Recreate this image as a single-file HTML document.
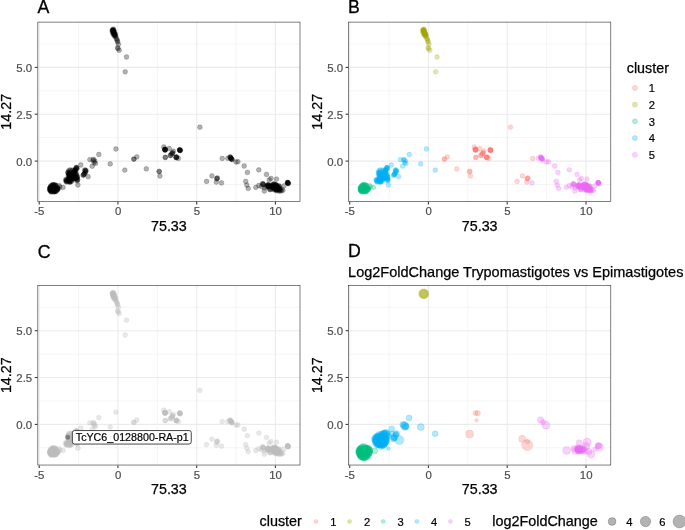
<!DOCTYPE html>
<html><head><meta charset="utf-8"><title>PCA clusters</title>
<style>
html,body{margin:0;padding:0;background:#fff;}
body{width:685px;height:530px;overflow:hidden;font-family:"Liberation Sans",sans-serif;}
svg{display:block;will-change:transform;font-family:"Liberation Sans",sans-serif;}
.ax{font-size:11.4px;fill:#4d4d4d;stroke:#4d4d4d;stroke-width:0.2px;}
.tt{font-size:14.3px;fill:#000;stroke:#000;stroke-width:0.25px;}
.tag{font-size:17.7px;fill:#000;stroke:#000;stroke-width:0.3px;}
.lg{font-size:11.2px;fill:#000;stroke:#000;stroke-width:0.2px;}
</style></head><body>
<svg width="685" height="530" viewBox="0 0 685 530">
<rect width="685" height="530" fill="#fff"/>

<g>
<line x1="78.6" y1="21.8" x2="78.6" y2="201.8" stroke="#ebebeb" stroke-width="0.55"/>
<line x1="157.3" y1="21.8" x2="157.3" y2="201.8" stroke="#ebebeb" stroke-width="0.55"/>
<line x1="236.1" y1="21.8" x2="236.1" y2="201.8" stroke="#ebebeb" stroke-width="0.55"/>
<line x1="37.5" y1="43.9" x2="300.3" y2="43.9" stroke="#ebebeb" stroke-width="0.55"/>
<line x1="37.5" y1="90.8" x2="300.3" y2="90.8" stroke="#ebebeb" stroke-width="0.55"/>
<line x1="37.5" y1="137.6" x2="300.3" y2="137.6" stroke="#ebebeb" stroke-width="0.55"/>
<line x1="37.5" y1="184.5" x2="300.3" y2="184.5" stroke="#ebebeb" stroke-width="0.55"/>
<line x1="39.2" y1="21.8" x2="39.2" y2="201.8" stroke="#ebebeb" stroke-width="1.07"/>
<line x1="39.2" y1="201.8" x2="39.2" y2="204.5" stroke="#333" stroke-width="1.07"/>
<text class="ax" x="39.4" y="214.8" text-anchor="middle">-5</text>
<line x1="117.9" y1="21.8" x2="117.9" y2="201.8" stroke="#ebebeb" stroke-width="1.07"/>
<line x1="117.9" y1="201.8" x2="117.9" y2="204.5" stroke="#333" stroke-width="1.07"/>
<text class="ax" x="118.1" y="214.8" text-anchor="middle">0</text>
<line x1="196.7" y1="21.8" x2="196.7" y2="201.8" stroke="#ebebeb" stroke-width="1.07"/>
<line x1="196.7" y1="201.8" x2="196.7" y2="204.5" stroke="#333" stroke-width="1.07"/>
<text class="ax" x="196.9" y="214.8" text-anchor="middle">5</text>
<line x1="275.4" y1="21.8" x2="275.4" y2="201.8" stroke="#ebebeb" stroke-width="1.07"/>
<line x1="275.4" y1="201.8" x2="275.4" y2="204.5" stroke="#333" stroke-width="1.07"/>
<text class="ax" x="275.6" y="214.8" text-anchor="middle">10</text>
<line x1="37.5" y1="67.4" x2="300.3" y2="67.4" stroke="#ebebeb" stroke-width="1.07"/>
<line x1="34.8" y1="67.4" x2="37.5" y2="67.4" stroke="#333" stroke-width="1.07"/>
<text class="ax" x="32.2" y="71.9" text-anchor="end">5.0</text>
<line x1="37.5" y1="114.2" x2="300.3" y2="114.2" stroke="#ebebeb" stroke-width="1.07"/>
<line x1="34.8" y1="114.2" x2="37.5" y2="114.2" stroke="#333" stroke-width="1.07"/>
<text class="ax" x="32.2" y="118.7" text-anchor="end">2.5</text>
<line x1="37.5" y1="161.1" x2="300.3" y2="161.1" stroke="#ebebeb" stroke-width="1.07"/>
<line x1="34.8" y1="161.1" x2="37.5" y2="161.1" stroke="#333" stroke-width="1.07"/>
<text class="ax" x="32.2" y="165.6" text-anchor="end">0.0</text>
</g>
<g fill="#000" fill-opacity="0.3" stroke="#000" stroke-opacity="0.3" stroke-width="0.6">
<circle cx="199.9" cy="127.2" r="2.4"/>
<circle cx="133.9" cy="159.1" r="2.4"/>
<circle cx="136.8" cy="156.9" r="2.4"/>
<circle cx="146.3" cy="168.9" r="2.4"/>
<circle cx="159.1" cy="171.3" r="2.4"/>
<circle cx="159.3" cy="171.6" r="2.4"/>
<circle cx="163.8" cy="147.0" r="2.4"/>
<circle cx="165.0" cy="149.6" r="2.4"/>
<circle cx="165.4" cy="149.9" r="2.4"/>
<circle cx="164.7" cy="149.2" r="2.4"/>
<circle cx="169.2" cy="148.5" r="2.4"/>
<circle cx="173.3" cy="151.1" r="2.4"/>
<circle cx="179.9" cy="150.1" r="2.4"/>
<circle cx="180.3" cy="150.4" r="2.4"/>
<circle cx="179.5" cy="149.8" r="2.4"/>
<circle cx="165.3" cy="157.4" r="2.4"/>
<circle cx="170.4" cy="155.5" r="2.4"/>
<circle cx="176.2" cy="157.4" r="2.4"/>
<circle cx="176.6" cy="157.0" r="2.4"/>
<circle cx="178.4" cy="158.4" r="2.4"/>
<circle cx="172.6" cy="152.8" r="2.4"/>
<circle cx="171.5" cy="154.2" r="2.4"/>
<circle cx="222.2" cy="158.4" r="2.4"/>
<circle cx="211.9" cy="175.9" r="2.4"/>
<circle cx="217.1" cy="178.4" r="2.4"/>
<circle cx="217.4" cy="178.0" r="2.4"/>
<circle cx="216.7" cy="178.8" r="2.4"/>
<circle cx="206.6" cy="181.4" r="2.4"/>
<circle cx="216.3" cy="182.1" r="2.4"/>
<circle cx="165.0" cy="149.6" r="2.4"/>
<circle cx="165.2" cy="149.4" r="2.4"/>
<circle cx="164.8" cy="149.9" r="2.4"/>
<circle cx="165.1" cy="150.0" r="2.4"/>
<circle cx="179.9" cy="150.1" r="2.4"/>
<circle cx="180.1" cy="150.3" r="2.4"/>
<circle cx="179.7" cy="149.9" r="2.4"/>
<circle cx="180.0" cy="150.5" r="2.4"/>
<circle cx="176.2" cy="157.4" r="2.4"/>
<circle cx="176.4" cy="157.6" r="2.4"/>
<circle cx="176.0" cy="157.2" r="2.4"/>
<circle cx="165.3" cy="157.4" r="2.4"/>
<circle cx="170.4" cy="155.5" r="2.4"/>
<circle cx="172.6" cy="152.8" r="2.4"/>
<circle cx="172.1" cy="153.6" r="2.4"/>
<circle cx="133.9" cy="159.1" r="2.4"/>
<circle cx="159.9" cy="176.0" r="2.4"/>
<circle cx="112.7" cy="29.6" r="2.4"/>
<circle cx="112.9" cy="30.3" r="2.4"/>
<circle cx="113.1" cy="31.0" r="2.4"/>
<circle cx="113.4" cy="31.6" r="2.4"/>
<circle cx="113.6" cy="32.2" r="2.4"/>
<circle cx="113.8" cy="32.8" r="2.4"/>
<circle cx="114.1" cy="33.4" r="2.4"/>
<circle cx="114.3" cy="34.0" r="2.4"/>
<circle cx="114.6" cy="34.6" r="2.4"/>
<circle cx="114.9" cy="35.2" r="2.4"/>
<circle cx="112.8" cy="29.9" r="2.4"/>
<circle cx="113.3" cy="31.2" r="2.4"/>
<circle cx="113.9" cy="33.0" r="2.4"/>
<circle cx="114.5" cy="34.2" r="2.4"/>
<circle cx="115.1" cy="36.0" r="2.4"/>
<circle cx="115.5" cy="36.8" r="2.4"/>
<circle cx="113.0" cy="30.6" r="2.4"/>
<circle cx="113.5" cy="32.0" r="2.4"/>
<circle cx="116.4" cy="38.6" r="2.4"/>
<circle cx="116.9" cy="39.6" r="2.4"/>
<circle cx="117.3" cy="40.8" r="2.4"/>
<circle cx="117.7" cy="42.0" r="2.4"/>
<circle cx="118.4" cy="44.3" r="2.4"/>
<circle cx="117.5" cy="47.8" r="2.4"/>
<circle cx="118.1" cy="48.6" r="2.4"/>
<circle cx="119.2" cy="50.3" r="2.4"/>
<circle cx="126.5" cy="57.0" r="2.4"/>
<circle cx="125.2" cy="71.8" r="2.4"/>
<circle cx="112.1" cy="30.6" r="2.4"/>
<circle cx="113.9" cy="30.4" r="2.4"/>
<circle cx="112.5" cy="32.4" r="2.4"/>
<circle cx="114.5" cy="32.2" r="2.4"/>
<circle cx="113.1" cy="34.0" r="2.4"/>
<circle cx="115.1" cy="33.8" r="2.4"/>
<circle cx="113.9" cy="35.6" r="2.4"/>
<circle cx="115.7" cy="35.4" r="2.4"/>
<circle cx="113.5" cy="29.2" r="2.4"/>
<circle cx="51.0" cy="186.8" r="2.4"/>
<circle cx="53.2" cy="184.9" r="2.4"/>
<circle cx="53.5" cy="187.4" r="2.4"/>
<circle cx="50.3" cy="190.4" r="2.4"/>
<circle cx="49.9" cy="190.0" r="2.4"/>
<circle cx="54.4" cy="191.1" r="2.4"/>
<circle cx="49.7" cy="188.1" r="2.4"/>
<circle cx="56.4" cy="191.1" r="2.4"/>
<circle cx="53.9" cy="187.4" r="2.4"/>
<circle cx="55.7" cy="185.5" r="2.4"/>
<circle cx="53.4" cy="191.5" r="2.4"/>
<circle cx="51.5" cy="190.4" r="2.4"/>
<circle cx="54.3" cy="187.0" r="2.4"/>
<circle cx="52.4" cy="185.2" r="2.4"/>
<circle cx="54.8" cy="187.2" r="2.4"/>
<circle cx="52.6" cy="189.9" r="2.4"/>
<circle cx="52.6" cy="187.3" r="2.4"/>
<circle cx="56.7" cy="188.7" r="2.4"/>
<circle cx="52.0" cy="190.1" r="2.4"/>
<circle cx="55.3" cy="191.0" r="2.4"/>
<circle cx="54.7" cy="186.0" r="2.4"/>
<circle cx="54.1" cy="190.7" r="2.4"/>
<circle cx="51.0" cy="189.9" r="2.4"/>
<circle cx="50.8" cy="191.6" r="2.4"/>
<circle cx="56.0" cy="187.9" r="2.4"/>
<circle cx="55.9" cy="185.6" r="2.4"/>
<circle cx="55.6" cy="188.3" r="2.4"/>
<circle cx="54.1" cy="187.9" r="2.4"/>
<circle cx="54.1" cy="189.8" r="2.4"/>
<circle cx="51.1" cy="191.8" r="2.4"/>
<circle cx="55.4" cy="185.6" r="2.4"/>
<circle cx="53.5" cy="190.2" r="2.4"/>
<circle cx="49.9" cy="190.2" r="2.4"/>
<circle cx="49.9" cy="188.3" r="2.4"/>
<circle cx="54.3" cy="191.6" r="2.4"/>
<circle cx="50.3" cy="189.9" r="2.4"/>
<circle cx="55.6" cy="191.0" r="2.4"/>
<circle cx="57.6" cy="189.7" r="2.4"/>
<circle cx="51.7" cy="188.8" r="2.4"/>
<circle cx="54.1" cy="191.8" r="2.4"/>
<circle cx="50.2" cy="188.0" r="2.4"/>
<circle cx="51.6" cy="189.5" r="2.4"/>
<circle cx="53.5" cy="186.5" r="2.4"/>
<circle cx="52.9" cy="189.5" r="2.4"/>
<circle cx="57.9" cy="187.9" r="2.4"/>
<circle cx="54.3" cy="189.3" r="2.4"/>
<circle cx="53.4" cy="184.6" r="2.4"/>
<circle cx="57.9" cy="188.8" r="2.4"/>
<circle cx="57.7" cy="189.0" r="2.4"/>
<circle cx="52.5" cy="188.2" r="2.4"/>
<circle cx="51.2" cy="191.1" r="2.4"/>
<circle cx="50.2" cy="187.4" r="2.4"/>
<circle cx="50.7" cy="186.0" r="2.4"/>
<circle cx="50.1" cy="189.2" r="2.4"/>
<circle cx="53.2" cy="185.6" r="2.4"/>
<circle cx="51.2" cy="188.5" r="2.4"/>
<circle cx="51.2" cy="186.4" r="2.4"/>
<circle cx="53.4" cy="188.5" r="2.4"/>
<circle cx="51.6" cy="187.5" r="2.4"/>
<circle cx="54.9" cy="184.7" r="2.4"/>
<circle cx="52.6" cy="185.9" r="2.4"/>
<circle cx="52.2" cy="185.0" r="2.4"/>
<circle cx="55.8" cy="191.7" r="2.4"/>
<circle cx="57.3" cy="188.3" r="2.4"/>
<circle cx="51.3" cy="188.6" r="2.4"/>
<circle cx="52.2" cy="191.8" r="2.4"/>
<circle cx="55.0" cy="190.3" r="2.4"/>
<circle cx="51.3" cy="187.3" r="2.4"/>
<circle cx="57.6" cy="189.2" r="2.4"/>
<circle cx="57.1" cy="188.8" r="2.4"/>
<circle cx="63.0" cy="187.4" r="2.4"/>
<circle cx="59.1" cy="185.6" r="2.4"/>
<circle cx="59.8" cy="187.0" r="2.4"/>
<circle cx="115.9" cy="149.0" r="2.4"/>
<circle cx="98.8" cy="154.5" r="2.4"/>
<circle cx="89.9" cy="159.6" r="2.4"/>
<circle cx="93.1" cy="160.2" r="2.4"/>
<circle cx="94.8" cy="161.0" r="2.4"/>
<circle cx="94.1" cy="162.6" r="2.4"/>
<circle cx="95.5" cy="163.4" r="2.4"/>
<circle cx="93.5" cy="159.4" r="2.4"/>
<circle cx="92.2" cy="166.2" r="2.4"/>
<circle cx="110.2" cy="163.9" r="2.4"/>
<circle cx="124.8" cy="170.1" r="2.4"/>
<circle cx="80.8" cy="165.0" r="2.4"/>
<circle cx="76.5" cy="167.7" r="2.4"/>
<circle cx="76.9" cy="168.4" r="2.4"/>
<circle cx="85.2" cy="170.6" r="2.4"/>
<circle cx="85.8" cy="171.4" r="2.4"/>
<circle cx="84.7" cy="170.0" r="2.4"/>
<circle cx="88.1" cy="176.7" r="2.4"/>
<circle cx="83.8" cy="174.5" r="2.4"/>
<circle cx="83.1" cy="175.4" r="2.4"/>
<circle cx="84.4" cy="173.6" r="2.4"/>
<circle cx="77.9" cy="185.0" r="2.4"/>
<circle cx="76.5" cy="167.4" r="2.4"/>
<circle cx="76.1" cy="168.0" r="2.4"/>
<circle cx="76.8" cy="168.6" r="2.4"/>
<circle cx="85.4" cy="170.9" r="2.4"/>
<circle cx="86.0" cy="170.3" r="2.4"/>
<circle cx="83.5" cy="174.8" r="2.4"/>
<circle cx="84.1" cy="174.0" r="2.4"/>
<circle cx="85.5" cy="172.6" r="2.4"/>
<circle cx="75.1" cy="170.2" r="2.4"/>
<circle cx="75.7" cy="169.4" r="2.4"/>
<circle cx="74.5" cy="171.0" r="2.4"/>
<circle cx="69.0" cy="174.5" r="2.4"/>
<circle cx="68.7" cy="170.6" r="2.4"/>
<circle cx="69.8" cy="175.6" r="2.4"/>
<circle cx="75.0" cy="171.4" r="2.4"/>
<circle cx="74.8" cy="170.8" r="2.4"/>
<circle cx="68.1" cy="172.5" r="2.4"/>
<circle cx="67.9" cy="172.4" r="2.4"/>
<circle cx="73.5" cy="175.8" r="2.4"/>
<circle cx="74.1" cy="172.0" r="2.4"/>
<circle cx="73.5" cy="174.9" r="2.4"/>
<circle cx="68.3" cy="176.0" r="2.4"/>
<circle cx="75.6" cy="173.9" r="2.4"/>
<circle cx="73.4" cy="172.4" r="2.4"/>
<circle cx="69.4" cy="176.6" r="2.4"/>
<circle cx="70.8" cy="176.1" r="2.4"/>
<circle cx="75.0" cy="171.0" r="2.4"/>
<circle cx="71.8" cy="176.9" r="2.4"/>
<circle cx="72.2" cy="170.3" r="2.4"/>
<circle cx="69.3" cy="177.0" r="2.4"/>
<circle cx="70.2" cy="174.3" r="2.4"/>
<circle cx="75.7" cy="172.8" r="2.4"/>
<circle cx="72.8" cy="176.3" r="2.4"/>
<circle cx="71.8" cy="176.2" r="2.4"/>
<circle cx="73.2" cy="170.2" r="2.4"/>
<circle cx="68.6" cy="172.8" r="2.4"/>
<circle cx="69.4" cy="174.9" r="2.4"/>
<circle cx="69.0" cy="173.7" r="2.4"/>
<circle cx="69.9" cy="173.6" r="2.4"/>
<circle cx="73.2" cy="175.9" r="2.4"/>
<circle cx="71.9" cy="176.6" r="2.4"/>
<circle cx="71.4" cy="173.6" r="2.4"/>
<circle cx="70.1" cy="169.9" r="2.4"/>
<circle cx="69.9" cy="171.4" r="2.4"/>
<circle cx="68.4" cy="174.4" r="2.4"/>
<circle cx="70.5" cy="179.8" r="2.4"/>
<circle cx="67.7" cy="180.5" r="2.4"/>
<circle cx="69.7" cy="181.3" r="2.4"/>
<circle cx="66.3" cy="181.1" r="2.4"/>
<circle cx="66.8" cy="179.4" r="2.4"/>
<circle cx="70.8" cy="179.5" r="2.4"/>
<circle cx="69.7" cy="181.2" r="2.4"/>
<circle cx="71.7" cy="178.8" r="2.4"/>
<circle cx="69.7" cy="179.8" r="2.4"/>
<circle cx="69.3" cy="180.9" r="2.4"/>
<circle cx="68.6" cy="180.3" r="2.4"/>
<circle cx="69.4" cy="182.2" r="2.4"/>
<circle cx="70.8" cy="181.4" r="2.4"/>
<circle cx="70.0" cy="182.1" r="2.4"/>
<circle cx="70.7" cy="177.5" r="2.4"/>
<circle cx="66.2" cy="180.5" r="2.4"/>
<circle cx="65.6" cy="179.6" r="2.4"/>
<circle cx="66.2" cy="181.8" r="2.4"/>
<circle cx="71.5" cy="181.4" r="2.4"/>
<circle cx="66.9" cy="181.8" r="2.4"/>
<circle cx="69.5" cy="177.9" r="2.4"/>
<circle cx="68.2" cy="180.2" r="2.4"/>
<circle cx="66.5" cy="180.4" r="2.4"/>
<circle cx="68.8" cy="179.2" r="2.4"/>
<circle cx="73.8" cy="178.8" r="2.4"/>
<circle cx="76.3" cy="178.2" r="2.4"/>
<circle cx="76.9" cy="178.3" r="2.4"/>
<circle cx="73.2" cy="178.8" r="2.4"/>
<circle cx="73.8" cy="177.7" r="2.4"/>
<circle cx="76.7" cy="180.7" r="2.4"/>
<circle cx="77.4" cy="176.5" r="2.4"/>
<circle cx="77.0" cy="179.3" r="2.4"/>
<circle cx="77.0" cy="177.6" r="2.4"/>
<circle cx="77.7" cy="179.5" r="2.4"/>
<circle cx="75.4" cy="178.0" r="2.4"/>
<circle cx="77.5" cy="180.4" r="2.4"/>
<circle cx="73.8" cy="177.7" r="2.4"/>
<circle cx="75.6" cy="177.3" r="2.4"/>
<circle cx="74.5" cy="178.3" r="2.4"/>
<circle cx="77.1" cy="176.8" r="2.4"/>
<circle cx="71.4" cy="174.9" r="2.4"/>
<circle cx="74.6" cy="175.4" r="2.4"/>
<circle cx="69.9" cy="178.1" r="2.4"/>
<circle cx="74.9" cy="174.4" r="2.4"/>
<circle cx="73.6" cy="178.2" r="2.4"/>
<circle cx="71.6" cy="177.1" r="2.4"/>
<circle cx="72.3" cy="179.0" r="2.4"/>
<circle cx="74.7" cy="176.0" r="2.4"/>
<circle cx="71.2" cy="176.3" r="2.4"/>
<circle cx="69.8" cy="180.1" r="2.4"/>
<circle cx="69.3" cy="176.2" r="2.4"/>
<circle cx="76.1" cy="175.3" r="2.4"/>
<circle cx="69.8" cy="176.5" r="2.4"/>
<circle cx="70.7" cy="177.5" r="2.4"/>
<circle cx="69.5" cy="178.2" r="2.4"/>
<circle cx="76.6" cy="174.1" r="2.4"/>
<circle cx="70.4" cy="176.9" r="2.4"/>
<circle cx="72.3" cy="176.7" r="2.4"/>
<circle cx="221.5" cy="182.9" r="2.4"/>
<circle cx="227.8" cy="158.3" r="2.4"/>
<circle cx="230.0" cy="156.8" r="2.4"/>
<circle cx="231.5" cy="159.0" r="2.4"/>
<circle cx="230.9" cy="158.2" r="2.4"/>
<circle cx="232.1" cy="159.6" r="2.4"/>
<circle cx="230.5" cy="157.6" r="2.4"/>
<circle cx="236.0" cy="162.0" r="2.4"/>
<circle cx="237.9" cy="161.7" r="2.4"/>
<circle cx="244.2" cy="166.0" r="2.4"/>
<circle cx="247.4" cy="172.4" r="2.4"/>
<circle cx="258.8" cy="169.9" r="2.4"/>
<circle cx="266.5" cy="174.4" r="2.4"/>
<circle cx="245.7" cy="181.4" r="2.4"/>
<circle cx="246.8" cy="185.1" r="2.4"/>
<circle cx="248.2" cy="188.4" r="2.4"/>
<circle cx="255.8" cy="187.3" r="2.4"/>
<circle cx="258.8" cy="185.5" r="2.4"/>
<circle cx="262.8" cy="183.6" r="2.4"/>
<circle cx="271.0" cy="178.4" r="2.4"/>
<circle cx="276.5" cy="179.1" r="2.4"/>
<circle cx="269.2" cy="179.9" r="2.4"/>
<circle cx="287.8" cy="182.9" r="2.4"/>
<circle cx="288.1" cy="183.3" r="2.4"/>
<circle cx="287.5" cy="182.5" r="2.4"/>
<circle cx="288.5" cy="183.6" r="2.4"/>
<circle cx="264.3" cy="191.0" r="2.4"/>
<circle cx="282.9" cy="190.3" r="2.4"/>
<circle cx="284.1" cy="185.8" r="2.4"/>
<circle cx="279.9" cy="191.0" r="2.4"/>
<circle cx="261.5" cy="186.6" r="2.4"/>
<circle cx="264.5" cy="187.8" r="2.4"/>
<circle cx="269.3" cy="186.7" r="2.4"/>
<circle cx="267.9" cy="185.9" r="2.4"/>
<circle cx="271.0" cy="185.2" r="2.4"/>
<circle cx="274.7" cy="187.5" r="2.4"/>
<circle cx="276.9" cy="188.6" r="2.4"/>
<circle cx="276.2" cy="190.0" r="2.4"/>
<circle cx="272.1" cy="185.9" r="2.4"/>
<circle cx="276.5" cy="188.5" r="2.4"/>
<circle cx="278.9" cy="188.7" r="2.4"/>
<circle cx="276.5" cy="189.6" r="2.4"/>
<circle cx="268.5" cy="186.7" r="2.4"/>
<circle cx="273.3" cy="189.3" r="2.4"/>
<circle cx="277.5" cy="189.8" r="2.4"/>
<circle cx="274.4" cy="189.8" r="2.4"/>
<circle cx="275.9" cy="188.7" r="2.4"/>
<circle cx="268.5" cy="185.7" r="2.4"/>
<circle cx="274.2" cy="188.1" r="2.4"/>
<circle cx="275.1" cy="188.6" r="2.4"/>
<circle cx="273.7" cy="184.0" r="2.4"/>
<circle cx="277.4" cy="189.3" r="2.4"/>
<circle cx="273.5" cy="187.4" r="2.4"/>
<circle cx="276.0" cy="184.7" r="2.4"/>
<circle cx="277.0" cy="186.0" r="2.4"/>
<circle cx="267.8" cy="185.0" r="2.4"/>
<circle cx="276.9" cy="185.7" r="2.4"/>
<circle cx="273.5" cy="186.4" r="2.4"/>
<circle cx="273.1" cy="188.3" r="2.4"/>
<circle cx="277.1" cy="188.4" r="2.4"/>
<circle cx="275.8" cy="184.8" r="2.4"/>
<circle cx="268.8" cy="185.0" r="2.4"/>
<circle cx="277.0" cy="186.4" r="2.4"/>
<circle cx="274.8" cy="184.2" r="2.4"/>
<circle cx="267.6" cy="185.0" r="2.4"/>
<circle cx="275.7" cy="188.7" r="2.4"/>
<circle cx="276.1" cy="186.2" r="2.4"/>
<circle cx="273.8" cy="187.0" r="2.4"/>
<circle cx="273.3" cy="184.7" r="2.4"/>
<circle cx="279.2" cy="185.9" r="2.4"/>
<circle cx="266.8" cy="186.1" r="2.4"/>
<circle cx="273.0" cy="185.6" r="2.4"/>
<circle cx="269.4" cy="187.2" r="2.4"/>
<circle cx="268.5" cy="186.8" r="2.4"/>
<circle cx="277.9" cy="187.8" r="2.4"/>
<circle cx="278.7" cy="189.1" r="2.4"/>
<circle cx="269.5" cy="189.3" r="2.4"/>
<circle cx="273.7" cy="184.2" r="2.4"/>
<circle cx="266.6" cy="186.3" r="2.4"/>
<circle cx="273.0" cy="185.9" r="2.4"/>
<circle cx="268.6" cy="185.6" r="2.4"/>
<circle cx="270.7" cy="189.1" r="2.4"/>
<circle cx="279.3" cy="189.3" r="2.4"/>
<circle cx="279.2" cy="186.5" r="2.4"/>
<circle cx="271.8" cy="186.3" r="2.4"/>
<circle cx="271.6" cy="186.5" r="2.4"/>
<circle cx="270.2" cy="189.6" r="2.4"/>
<circle cx="263.0" cy="184.3" r="2.4"/>
<circle cx="263.4" cy="184.7" r="2.4"/>
<circle cx="262.7" cy="184.0" r="2.4"/>
<circle cx="287.8" cy="182.9" r="2.4"/>
<circle cx="288.0" cy="183.1" r="2.4"/>
<circle cx="287.6" cy="182.7" r="2.4"/>
<circle cx="287.9" cy="182.6" r="2.4"/>
<circle cx="231.3" cy="158.8" r="2.4"/>
<circle cx="231.7" cy="159.2" r="2.4"/>
<circle cx="230.7" cy="158.0" r="2.4"/>
<circle cx="230.3" cy="157.2" r="2.4"/>
<circle cx="276.0" cy="187.0" r="2.4"/>
<circle cx="278.4" cy="187.0" r="2.4"/>
<circle cx="276.4" cy="190.7" r="2.4"/>
<circle cx="281.1" cy="190.9" r="2.4"/>
<circle cx="278.7" cy="190.9" r="2.4"/>
<circle cx="281.8" cy="189.6" r="2.4"/>
<circle cx="280.1" cy="188.8" r="2.4"/>
<circle cx="280.1" cy="189.8" r="2.4"/>
<circle cx="276.6" cy="185.9" r="2.4"/>
<circle cx="277.9" cy="187.8" r="2.4"/>
<circle cx="276.0" cy="189.5" r="2.4"/>
<circle cx="279.6" cy="187.9" r="2.4"/>
</g>
<rect x="37.81" y="22.11" width="262.18" height="179.33" fill="none" stroke="#333" stroke-width="0.62"/>
<text class="tt" x="168.9" y="230.8" text-anchor="middle">75.33</text><text class="tt" transform="translate(11.1,111.8) rotate(-90)" text-anchor="middle">14.27</text>
<text class="tag" x="37.6" y="12.8">A</text>
<g>
<line x1="389.1" y1="21.8" x2="389.1" y2="201.8" stroke="#ebebeb" stroke-width="0.55"/>
<line x1="467.8" y1="21.8" x2="467.8" y2="201.8" stroke="#ebebeb" stroke-width="0.55"/>
<line x1="546.6" y1="21.8" x2="546.6" y2="201.8" stroke="#ebebeb" stroke-width="0.55"/>
<line x1="348.3" y1="43.9" x2="611.1" y2="43.9" stroke="#ebebeb" stroke-width="0.55"/>
<line x1="348.3" y1="90.8" x2="611.1" y2="90.8" stroke="#ebebeb" stroke-width="0.55"/>
<line x1="348.3" y1="137.6" x2="611.1" y2="137.6" stroke="#ebebeb" stroke-width="0.55"/>
<line x1="348.3" y1="184.5" x2="611.1" y2="184.5" stroke="#ebebeb" stroke-width="0.55"/>
<line x1="349.7" y1="21.8" x2="349.7" y2="201.8" stroke="#ebebeb" stroke-width="1.07"/>
<line x1="349.7" y1="201.8" x2="349.7" y2="204.5" stroke="#333" stroke-width="1.07"/>
<text class="ax" x="349.9" y="214.8" text-anchor="middle">-5</text>
<line x1="428.4" y1="21.8" x2="428.4" y2="201.8" stroke="#ebebeb" stroke-width="1.07"/>
<line x1="428.4" y1="201.8" x2="428.4" y2="204.5" stroke="#333" stroke-width="1.07"/>
<text class="ax" x="428.6" y="214.8" text-anchor="middle">0</text>
<line x1="507.2" y1="21.8" x2="507.2" y2="201.8" stroke="#ebebeb" stroke-width="1.07"/>
<line x1="507.2" y1="201.8" x2="507.2" y2="204.5" stroke="#333" stroke-width="1.07"/>
<text class="ax" x="507.4" y="214.8" text-anchor="middle">5</text>
<line x1="586.0" y1="21.8" x2="586.0" y2="201.8" stroke="#ebebeb" stroke-width="1.07"/>
<line x1="586.0" y1="201.8" x2="586.0" y2="204.5" stroke="#333" stroke-width="1.07"/>
<text class="ax" x="586.2" y="214.8" text-anchor="middle">10</text>
<line x1="348.3" y1="67.4" x2="611.1" y2="67.4" stroke="#ebebeb" stroke-width="1.07"/>
<line x1="345.6" y1="67.4" x2="348.3" y2="67.4" stroke="#333" stroke-width="1.07"/>
<text class="ax" x="343.0" y="71.9" text-anchor="end">5.0</text>
<line x1="348.3" y1="114.2" x2="611.1" y2="114.2" stroke="#ebebeb" stroke-width="1.07"/>
<line x1="345.6" y1="114.2" x2="348.3" y2="114.2" stroke="#333" stroke-width="1.07"/>
<text class="ax" x="343.0" y="118.7" text-anchor="end">2.5</text>
<line x1="348.3" y1="161.1" x2="611.1" y2="161.1" stroke="#ebebeb" stroke-width="1.07"/>
<line x1="345.6" y1="161.1" x2="348.3" y2="161.1" stroke="#333" stroke-width="1.07"/>
<text class="ax" x="343.0" y="165.6" text-anchor="end">0.0</text>
</g>
<g fill="#F8766D" fill-opacity="0.3" stroke="#F8766D" stroke-opacity="0.3" stroke-width="0.6">
<circle cx="510.4" cy="127.2" r="2.4"/>
<circle cx="444.4" cy="159.1" r="2.4"/>
<circle cx="447.3" cy="156.9" r="2.4"/>
<circle cx="456.8" cy="168.9" r="2.4"/>
<circle cx="469.6" cy="171.3" r="2.4"/>
<circle cx="469.8" cy="171.6" r="2.4"/>
<circle cx="474.3" cy="147.0" r="2.4"/>
<circle cx="475.5" cy="149.6" r="2.4"/>
<circle cx="475.9" cy="149.9" r="2.4"/>
<circle cx="475.2" cy="149.2" r="2.4"/>
<circle cx="479.7" cy="148.5" r="2.4"/>
<circle cx="483.8" cy="151.1" r="2.4"/>
<circle cx="490.4" cy="150.1" r="2.4"/>
<circle cx="490.8" cy="150.4" r="2.4"/>
<circle cx="490.0" cy="149.8" r="2.4"/>
<circle cx="475.8" cy="157.4" r="2.4"/>
<circle cx="480.9" cy="155.5" r="2.4"/>
<circle cx="486.7" cy="157.4" r="2.4"/>
<circle cx="487.1" cy="157.0" r="2.4"/>
<circle cx="488.9" cy="158.4" r="2.4"/>
<circle cx="483.1" cy="152.8" r="2.4"/>
<circle cx="482.0" cy="154.2" r="2.4"/>
<circle cx="532.7" cy="158.4" r="2.4"/>
<circle cx="522.4" cy="175.9" r="2.4"/>
<circle cx="527.6" cy="178.4" r="2.4"/>
<circle cx="527.9" cy="178.0" r="2.4"/>
<circle cx="527.2" cy="178.8" r="2.4"/>
<circle cx="517.1" cy="181.4" r="2.4"/>
<circle cx="526.8" cy="182.1" r="2.4"/>
<circle cx="475.5" cy="149.6" r="2.4"/>
<circle cx="475.7" cy="149.4" r="2.4"/>
<circle cx="475.3" cy="149.9" r="2.4"/>
<circle cx="475.6" cy="150.0" r="2.4"/>
<circle cx="490.4" cy="150.1" r="2.4"/>
<circle cx="490.6" cy="150.3" r="2.4"/>
<circle cx="490.2" cy="149.9" r="2.4"/>
<circle cx="490.5" cy="150.5" r="2.4"/>
<circle cx="486.7" cy="157.4" r="2.4"/>
<circle cx="486.9" cy="157.6" r="2.4"/>
<circle cx="486.5" cy="157.2" r="2.4"/>
<circle cx="475.8" cy="157.4" r="2.4"/>
<circle cx="480.9" cy="155.5" r="2.4"/>
<circle cx="483.1" cy="152.8" r="2.4"/>
<circle cx="482.6" cy="153.6" r="2.4"/>
<circle cx="444.4" cy="159.1" r="2.4"/>
<circle cx="470.4" cy="176.0" r="2.4"/>
</g>
<g fill="#A3A500" fill-opacity="0.3" stroke="#A3A500" stroke-opacity="0.3" stroke-width="0.6">
<circle cx="423.2" cy="29.6" r="2.4"/>
<circle cx="423.4" cy="30.3" r="2.4"/>
<circle cx="423.6" cy="31.0" r="2.4"/>
<circle cx="423.9" cy="31.6" r="2.4"/>
<circle cx="424.1" cy="32.2" r="2.4"/>
<circle cx="424.3" cy="32.8" r="2.4"/>
<circle cx="424.6" cy="33.4" r="2.4"/>
<circle cx="424.8" cy="34.0" r="2.4"/>
<circle cx="425.1" cy="34.6" r="2.4"/>
<circle cx="425.4" cy="35.2" r="2.4"/>
<circle cx="423.3" cy="29.9" r="2.4"/>
<circle cx="423.8" cy="31.2" r="2.4"/>
<circle cx="424.4" cy="33.0" r="2.4"/>
<circle cx="425.0" cy="34.2" r="2.4"/>
<circle cx="425.6" cy="36.0" r="2.4"/>
<circle cx="426.0" cy="36.8" r="2.4"/>
<circle cx="423.5" cy="30.6" r="2.4"/>
<circle cx="424.0" cy="32.0" r="2.4"/>
<circle cx="426.9" cy="38.6" r="2.4"/>
<circle cx="427.4" cy="39.6" r="2.4"/>
<circle cx="427.8" cy="40.8" r="2.4"/>
<circle cx="428.2" cy="42.0" r="2.4"/>
<circle cx="428.9" cy="44.3" r="2.4"/>
<circle cx="428.0" cy="47.8" r="2.4"/>
<circle cx="428.6" cy="48.6" r="2.4"/>
<circle cx="429.7" cy="50.3" r="2.4"/>
<circle cx="437.0" cy="57.0" r="2.4"/>
<circle cx="435.7" cy="71.8" r="2.4"/>
<circle cx="422.6" cy="30.6" r="2.4"/>
<circle cx="424.4" cy="30.4" r="2.4"/>
<circle cx="423.0" cy="32.4" r="2.4"/>
<circle cx="425.0" cy="32.2" r="2.4"/>
<circle cx="423.6" cy="34.0" r="2.4"/>
<circle cx="425.6" cy="33.8" r="2.4"/>
<circle cx="424.4" cy="35.6" r="2.4"/>
<circle cx="426.2" cy="35.4" r="2.4"/>
<circle cx="424.0" cy="29.2" r="2.4"/>
</g>
<g fill="#00BF7D" fill-opacity="0.3" stroke="#00BF7D" stroke-opacity="0.3" stroke-width="0.6">
<circle cx="361.5" cy="186.8" r="2.4"/>
<circle cx="363.7" cy="184.9" r="2.4"/>
<circle cx="364.0" cy="187.4" r="2.4"/>
<circle cx="360.8" cy="190.4" r="2.4"/>
<circle cx="360.4" cy="190.0" r="2.4"/>
<circle cx="364.9" cy="191.1" r="2.4"/>
<circle cx="360.2" cy="188.1" r="2.4"/>
<circle cx="366.9" cy="191.1" r="2.4"/>
<circle cx="364.4" cy="187.4" r="2.4"/>
<circle cx="366.2" cy="185.5" r="2.4"/>
<circle cx="363.9" cy="191.5" r="2.4"/>
<circle cx="362.0" cy="190.4" r="2.4"/>
<circle cx="364.8" cy="187.0" r="2.4"/>
<circle cx="362.9" cy="185.2" r="2.4"/>
<circle cx="365.3" cy="187.2" r="2.4"/>
<circle cx="363.1" cy="189.9" r="2.4"/>
<circle cx="363.1" cy="187.3" r="2.4"/>
<circle cx="367.2" cy="188.7" r="2.4"/>
<circle cx="362.5" cy="190.1" r="2.4"/>
<circle cx="365.8" cy="191.0" r="2.4"/>
<circle cx="365.2" cy="186.0" r="2.4"/>
<circle cx="364.6" cy="190.7" r="2.4"/>
<circle cx="361.5" cy="189.9" r="2.4"/>
<circle cx="361.3" cy="191.6" r="2.4"/>
<circle cx="366.5" cy="187.9" r="2.4"/>
<circle cx="366.4" cy="185.6" r="2.4"/>
<circle cx="366.1" cy="188.3" r="2.4"/>
<circle cx="364.6" cy="187.9" r="2.4"/>
<circle cx="364.6" cy="189.8" r="2.4"/>
<circle cx="361.6" cy="191.8" r="2.4"/>
<circle cx="365.9" cy="185.6" r="2.4"/>
<circle cx="364.0" cy="190.2" r="2.4"/>
<circle cx="360.4" cy="190.2" r="2.4"/>
<circle cx="360.4" cy="188.3" r="2.4"/>
<circle cx="364.8" cy="191.6" r="2.4"/>
<circle cx="360.8" cy="189.9" r="2.4"/>
<circle cx="366.1" cy="191.0" r="2.4"/>
<circle cx="368.1" cy="189.7" r="2.4"/>
<circle cx="362.2" cy="188.8" r="2.4"/>
<circle cx="364.6" cy="191.8" r="2.4"/>
<circle cx="360.7" cy="188.0" r="2.4"/>
<circle cx="362.1" cy="189.5" r="2.4"/>
<circle cx="364.0" cy="186.5" r="2.4"/>
<circle cx="363.4" cy="189.5" r="2.4"/>
<circle cx="368.4" cy="187.9" r="2.4"/>
<circle cx="364.8" cy="189.3" r="2.4"/>
<circle cx="363.9" cy="184.6" r="2.4"/>
<circle cx="368.4" cy="188.8" r="2.4"/>
<circle cx="368.2" cy="189.0" r="2.4"/>
<circle cx="363.0" cy="188.2" r="2.4"/>
<circle cx="361.7" cy="191.1" r="2.4"/>
<circle cx="360.7" cy="187.4" r="2.4"/>
<circle cx="361.2" cy="186.0" r="2.4"/>
<circle cx="360.6" cy="189.2" r="2.4"/>
<circle cx="363.7" cy="185.6" r="2.4"/>
<circle cx="361.7" cy="188.5" r="2.4"/>
<circle cx="361.7" cy="186.4" r="2.4"/>
<circle cx="363.9" cy="188.5" r="2.4"/>
<circle cx="362.1" cy="187.5" r="2.4"/>
<circle cx="365.4" cy="184.7" r="2.4"/>
<circle cx="363.1" cy="185.9" r="2.4"/>
<circle cx="362.7" cy="185.0" r="2.4"/>
<circle cx="366.3" cy="191.7" r="2.4"/>
<circle cx="367.8" cy="188.3" r="2.4"/>
<circle cx="361.8" cy="188.6" r="2.4"/>
<circle cx="362.7" cy="191.8" r="2.4"/>
<circle cx="365.5" cy="190.3" r="2.4"/>
<circle cx="361.8" cy="187.3" r="2.4"/>
<circle cx="368.1" cy="189.2" r="2.4"/>
<circle cx="367.6" cy="188.8" r="2.4"/>
<circle cx="373.5" cy="187.4" r="2.4"/>
<circle cx="369.6" cy="185.6" r="2.4"/>
<circle cx="370.3" cy="187.0" r="2.4"/>
</g>
<g fill="#00B0F6" fill-opacity="0.3" stroke="#00B0F6" stroke-opacity="0.3" stroke-width="0.6">
<circle cx="426.4" cy="149.0" r="2.4"/>
<circle cx="409.3" cy="154.5" r="2.4"/>
<circle cx="400.4" cy="159.6" r="2.4"/>
<circle cx="403.6" cy="160.2" r="2.4"/>
<circle cx="405.3" cy="161.0" r="2.4"/>
<circle cx="404.6" cy="162.6" r="2.4"/>
<circle cx="406.0" cy="163.4" r="2.4"/>
<circle cx="404.0" cy="159.4" r="2.4"/>
<circle cx="402.7" cy="166.2" r="2.4"/>
<circle cx="420.7" cy="163.9" r="2.4"/>
<circle cx="435.3" cy="170.1" r="2.4"/>
<circle cx="391.3" cy="165.0" r="2.4"/>
<circle cx="387.0" cy="167.7" r="2.4"/>
<circle cx="387.4" cy="168.4" r="2.4"/>
<circle cx="395.7" cy="170.6" r="2.4"/>
<circle cx="396.3" cy="171.4" r="2.4"/>
<circle cx="395.2" cy="170.0" r="2.4"/>
<circle cx="398.6" cy="176.7" r="2.4"/>
<circle cx="394.3" cy="174.5" r="2.4"/>
<circle cx="393.6" cy="175.4" r="2.4"/>
<circle cx="394.9" cy="173.6" r="2.4"/>
<circle cx="388.4" cy="185.0" r="2.4"/>
<circle cx="387.0" cy="167.4" r="2.4"/>
<circle cx="386.6" cy="168.0" r="2.4"/>
<circle cx="387.3" cy="168.6" r="2.4"/>
<circle cx="395.9" cy="170.9" r="2.4"/>
<circle cx="396.5" cy="170.3" r="2.4"/>
<circle cx="394.0" cy="174.8" r="2.4"/>
<circle cx="394.6" cy="174.0" r="2.4"/>
<circle cx="396.0" cy="172.6" r="2.4"/>
<circle cx="385.6" cy="170.2" r="2.4"/>
<circle cx="386.2" cy="169.4" r="2.4"/>
<circle cx="385.0" cy="171.0" r="2.4"/>
<circle cx="379.5" cy="174.5" r="2.4"/>
<circle cx="379.2" cy="170.6" r="2.4"/>
<circle cx="380.3" cy="175.6" r="2.4"/>
<circle cx="385.5" cy="171.4" r="2.4"/>
<circle cx="385.3" cy="170.8" r="2.4"/>
<circle cx="378.6" cy="172.5" r="2.4"/>
<circle cx="378.4" cy="172.4" r="2.4"/>
<circle cx="384.0" cy="175.8" r="2.4"/>
<circle cx="384.6" cy="172.0" r="2.4"/>
<circle cx="384.0" cy="174.9" r="2.4"/>
<circle cx="378.8" cy="176.0" r="2.4"/>
<circle cx="386.1" cy="173.9" r="2.4"/>
<circle cx="383.9" cy="172.4" r="2.4"/>
<circle cx="379.9" cy="176.6" r="2.4"/>
<circle cx="381.3" cy="176.1" r="2.4"/>
<circle cx="385.5" cy="171.0" r="2.4"/>
<circle cx="382.3" cy="176.9" r="2.4"/>
<circle cx="382.7" cy="170.3" r="2.4"/>
<circle cx="379.8" cy="177.0" r="2.4"/>
<circle cx="380.7" cy="174.3" r="2.4"/>
<circle cx="386.2" cy="172.8" r="2.4"/>
<circle cx="383.3" cy="176.3" r="2.4"/>
<circle cx="382.3" cy="176.2" r="2.4"/>
<circle cx="383.7" cy="170.2" r="2.4"/>
<circle cx="379.1" cy="172.8" r="2.4"/>
<circle cx="379.9" cy="174.9" r="2.4"/>
<circle cx="379.5" cy="173.7" r="2.4"/>
<circle cx="380.4" cy="173.6" r="2.4"/>
<circle cx="383.7" cy="175.9" r="2.4"/>
<circle cx="382.4" cy="176.6" r="2.4"/>
<circle cx="381.9" cy="173.6" r="2.4"/>
<circle cx="380.6" cy="169.9" r="2.4"/>
<circle cx="380.4" cy="171.4" r="2.4"/>
<circle cx="378.9" cy="174.4" r="2.4"/>
<circle cx="381.0" cy="179.8" r="2.4"/>
<circle cx="378.2" cy="180.5" r="2.4"/>
<circle cx="380.2" cy="181.3" r="2.4"/>
<circle cx="376.8" cy="181.1" r="2.4"/>
<circle cx="377.3" cy="179.4" r="2.4"/>
<circle cx="381.3" cy="179.5" r="2.4"/>
<circle cx="380.2" cy="181.2" r="2.4"/>
<circle cx="382.2" cy="178.8" r="2.4"/>
<circle cx="380.2" cy="179.8" r="2.4"/>
<circle cx="379.8" cy="180.9" r="2.4"/>
<circle cx="379.1" cy="180.3" r="2.4"/>
<circle cx="379.9" cy="182.2" r="2.4"/>
<circle cx="381.3" cy="181.4" r="2.4"/>
<circle cx="380.5" cy="182.1" r="2.4"/>
<circle cx="381.2" cy="177.5" r="2.4"/>
<circle cx="376.7" cy="180.5" r="2.4"/>
<circle cx="376.1" cy="179.6" r="2.4"/>
<circle cx="376.7" cy="181.8" r="2.4"/>
<circle cx="382.0" cy="181.4" r="2.4"/>
<circle cx="377.4" cy="181.8" r="2.4"/>
<circle cx="380.0" cy="177.9" r="2.4"/>
<circle cx="378.7" cy="180.2" r="2.4"/>
<circle cx="377.0" cy="180.4" r="2.4"/>
<circle cx="379.3" cy="179.2" r="2.4"/>
<circle cx="384.3" cy="178.8" r="2.4"/>
<circle cx="386.8" cy="178.2" r="2.4"/>
<circle cx="387.4" cy="178.3" r="2.4"/>
<circle cx="383.7" cy="178.8" r="2.4"/>
<circle cx="384.3" cy="177.7" r="2.4"/>
<circle cx="387.2" cy="180.7" r="2.4"/>
<circle cx="387.9" cy="176.5" r="2.4"/>
<circle cx="387.5" cy="179.3" r="2.4"/>
<circle cx="387.5" cy="177.6" r="2.4"/>
<circle cx="388.2" cy="179.5" r="2.4"/>
<circle cx="385.9" cy="178.0" r="2.4"/>
<circle cx="388.0" cy="180.4" r="2.4"/>
<circle cx="384.3" cy="177.7" r="2.4"/>
<circle cx="386.1" cy="177.3" r="2.4"/>
<circle cx="385.0" cy="178.3" r="2.4"/>
<circle cx="387.6" cy="176.8" r="2.4"/>
<circle cx="381.9" cy="174.9" r="2.4"/>
<circle cx="385.1" cy="175.4" r="2.4"/>
<circle cx="380.4" cy="178.1" r="2.4"/>
<circle cx="385.4" cy="174.4" r="2.4"/>
<circle cx="384.1" cy="178.2" r="2.4"/>
<circle cx="382.1" cy="177.1" r="2.4"/>
<circle cx="382.8" cy="179.0" r="2.4"/>
<circle cx="385.2" cy="176.0" r="2.4"/>
<circle cx="381.7" cy="176.3" r="2.4"/>
<circle cx="380.3" cy="180.1" r="2.4"/>
<circle cx="379.8" cy="176.2" r="2.4"/>
<circle cx="386.6" cy="175.3" r="2.4"/>
<circle cx="380.3" cy="176.5" r="2.4"/>
<circle cx="381.2" cy="177.5" r="2.4"/>
<circle cx="380.0" cy="178.2" r="2.4"/>
<circle cx="387.1" cy="174.1" r="2.4"/>
<circle cx="380.9" cy="176.9" r="2.4"/>
<circle cx="382.8" cy="176.7" r="2.4"/>
</g>
<g fill="#E76BF3" fill-opacity="0.3" stroke="#E76BF3" stroke-opacity="0.3" stroke-width="0.6">
<circle cx="532.0" cy="182.9" r="2.4"/>
<circle cx="538.3" cy="158.3" r="2.4"/>
<circle cx="540.5" cy="156.8" r="2.4"/>
<circle cx="542.0" cy="159.0" r="2.4"/>
<circle cx="541.4" cy="158.2" r="2.4"/>
<circle cx="542.6" cy="159.6" r="2.4"/>
<circle cx="541.0" cy="157.6" r="2.4"/>
<circle cx="546.5" cy="162.0" r="2.4"/>
<circle cx="548.4" cy="161.7" r="2.4"/>
<circle cx="554.7" cy="166.0" r="2.4"/>
<circle cx="557.9" cy="172.4" r="2.4"/>
<circle cx="569.3" cy="169.9" r="2.4"/>
<circle cx="577.0" cy="174.4" r="2.4"/>
<circle cx="556.2" cy="181.4" r="2.4"/>
<circle cx="557.3" cy="185.1" r="2.4"/>
<circle cx="558.7" cy="188.4" r="2.4"/>
<circle cx="566.3" cy="187.3" r="2.4"/>
<circle cx="569.3" cy="185.5" r="2.4"/>
<circle cx="573.3" cy="183.6" r="2.4"/>
<circle cx="581.5" cy="178.4" r="2.4"/>
<circle cx="587.0" cy="179.1" r="2.4"/>
<circle cx="579.7" cy="179.9" r="2.4"/>
<circle cx="598.3" cy="182.9" r="2.4"/>
<circle cx="598.6" cy="183.3" r="2.4"/>
<circle cx="598.0" cy="182.5" r="2.4"/>
<circle cx="599.0" cy="183.6" r="2.4"/>
<circle cx="574.8" cy="191.0" r="2.4"/>
<circle cx="593.4" cy="190.3" r="2.4"/>
<circle cx="594.6" cy="185.8" r="2.4"/>
<circle cx="590.4" cy="191.0" r="2.4"/>
<circle cx="572.0" cy="186.6" r="2.4"/>
<circle cx="575.0" cy="187.8" r="2.4"/>
<circle cx="579.8" cy="186.7" r="2.4"/>
<circle cx="578.4" cy="185.9" r="2.4"/>
<circle cx="581.5" cy="185.2" r="2.4"/>
<circle cx="585.2" cy="187.5" r="2.4"/>
<circle cx="587.4" cy="188.6" r="2.4"/>
<circle cx="586.7" cy="190.0" r="2.4"/>
<circle cx="582.6" cy="185.9" r="2.4"/>
<circle cx="587.0" cy="188.5" r="2.4"/>
<circle cx="589.4" cy="188.7" r="2.4"/>
<circle cx="587.0" cy="189.6" r="2.4"/>
<circle cx="579.0" cy="186.7" r="2.4"/>
<circle cx="583.8" cy="189.3" r="2.4"/>
<circle cx="588.0" cy="189.8" r="2.4"/>
<circle cx="584.9" cy="189.8" r="2.4"/>
<circle cx="586.4" cy="188.7" r="2.4"/>
<circle cx="579.0" cy="185.7" r="2.4"/>
<circle cx="584.7" cy="188.1" r="2.4"/>
<circle cx="585.6" cy="188.6" r="2.4"/>
<circle cx="584.2" cy="184.0" r="2.4"/>
<circle cx="587.9" cy="189.3" r="2.4"/>
<circle cx="584.0" cy="187.4" r="2.4"/>
<circle cx="586.5" cy="184.7" r="2.4"/>
<circle cx="587.5" cy="186.0" r="2.4"/>
<circle cx="578.3" cy="185.0" r="2.4"/>
<circle cx="587.4" cy="185.7" r="2.4"/>
<circle cx="584.0" cy="186.4" r="2.4"/>
<circle cx="583.6" cy="188.3" r="2.4"/>
<circle cx="587.6" cy="188.4" r="2.4"/>
<circle cx="586.3" cy="184.8" r="2.4"/>
<circle cx="579.3" cy="185.0" r="2.4"/>
<circle cx="587.5" cy="186.4" r="2.4"/>
<circle cx="585.3" cy="184.2" r="2.4"/>
<circle cx="578.1" cy="185.0" r="2.4"/>
<circle cx="586.2" cy="188.7" r="2.4"/>
<circle cx="586.6" cy="186.2" r="2.4"/>
<circle cx="584.3" cy="187.0" r="2.4"/>
<circle cx="583.8" cy="184.7" r="2.4"/>
<circle cx="589.7" cy="185.9" r="2.4"/>
<circle cx="577.3" cy="186.1" r="2.4"/>
<circle cx="583.5" cy="185.6" r="2.4"/>
<circle cx="579.9" cy="187.2" r="2.4"/>
<circle cx="579.0" cy="186.8" r="2.4"/>
<circle cx="588.4" cy="187.8" r="2.4"/>
<circle cx="589.2" cy="189.1" r="2.4"/>
<circle cx="580.0" cy="189.3" r="2.4"/>
<circle cx="584.2" cy="184.2" r="2.4"/>
<circle cx="577.1" cy="186.3" r="2.4"/>
<circle cx="583.5" cy="185.9" r="2.4"/>
<circle cx="579.1" cy="185.6" r="2.4"/>
<circle cx="581.2" cy="189.1" r="2.4"/>
<circle cx="589.8" cy="189.3" r="2.4"/>
<circle cx="589.7" cy="186.5" r="2.4"/>
<circle cx="582.3" cy="186.3" r="2.4"/>
<circle cx="582.1" cy="186.5" r="2.4"/>
<circle cx="580.7" cy="189.6" r="2.4"/>
<circle cx="573.5" cy="184.3" r="2.4"/>
<circle cx="573.9" cy="184.7" r="2.4"/>
<circle cx="573.2" cy="184.0" r="2.4"/>
<circle cx="598.3" cy="182.9" r="2.4"/>
<circle cx="598.5" cy="183.1" r="2.4"/>
<circle cx="598.1" cy="182.7" r="2.4"/>
<circle cx="598.4" cy="182.6" r="2.4"/>
<circle cx="541.8" cy="158.8" r="2.4"/>
<circle cx="542.2" cy="159.2" r="2.4"/>
<circle cx="541.2" cy="158.0" r="2.4"/>
<circle cx="540.8" cy="157.2" r="2.4"/>
<circle cx="586.5" cy="187.0" r="2.4"/>
<circle cx="588.9" cy="187.0" r="2.4"/>
<circle cx="586.9" cy="190.7" r="2.4"/>
<circle cx="591.6" cy="190.9" r="2.4"/>
<circle cx="589.2" cy="190.9" r="2.4"/>
<circle cx="592.3" cy="189.6" r="2.4"/>
<circle cx="590.6" cy="188.8" r="2.4"/>
<circle cx="590.6" cy="189.8" r="2.4"/>
<circle cx="587.1" cy="185.9" r="2.4"/>
<circle cx="588.4" cy="187.8" r="2.4"/>
<circle cx="586.5" cy="189.5" r="2.4"/>
<circle cx="590.1" cy="187.9" r="2.4"/>
</g>
<rect x="348.61" y="22.11" width="262.18" height="179.33" fill="none" stroke="#333" stroke-width="0.62"/>
<text class="tt" x="479.7" y="230.8" text-anchor="middle">75.33</text><text class="tt" transform="translate(321.9,111.8) rotate(-90)" text-anchor="middle">14.27</text>
<text class="tag" x="347.9" y="12.8">B</text>
<text class="tt" x="626.8" y="72.9" style="font-size:14.3px">cluster</text>
<circle cx="634.9" cy="87.9" r="2.55" fill="#F8766D" fill-opacity="0.3" stroke="#F8766D" stroke-opacity="0.3" stroke-width="0.6"/>
<text class="lg" x="648.8" y="92.1">1</text>
<circle cx="634.9" cy="104.6" r="2.55" fill="#A3A500" fill-opacity="0.3" stroke="#A3A500" stroke-opacity="0.3" stroke-width="0.6"/>
<text class="lg" x="648.8" y="108.8">2</text>
<circle cx="634.9" cy="121.3" r="2.55" fill="#00BF7D" fill-opacity="0.3" stroke="#00BF7D" stroke-opacity="0.3" stroke-width="0.6"/>
<text class="lg" x="648.8" y="125.5">3</text>
<circle cx="634.9" cy="138.0" r="2.55" fill="#00B0F6" fill-opacity="0.3" stroke="#00B0F6" stroke-opacity="0.3" stroke-width="0.6"/>
<text class="lg" x="648.8" y="142.2">4</text>
<circle cx="634.9" cy="154.7" r="2.55" fill="#E76BF3" fill-opacity="0.3" stroke="#E76BF3" stroke-opacity="0.3" stroke-width="0.6"/>
<text class="lg" x="648.8" y="158.9">5</text>
<g>
<line x1="78.6" y1="285.1" x2="78.6" y2="465.4" stroke="#ebebeb" stroke-width="0.55"/>
<line x1="157.3" y1="285.1" x2="157.3" y2="465.4" stroke="#ebebeb" stroke-width="0.55"/>
<line x1="236.1" y1="285.1" x2="236.1" y2="465.4" stroke="#ebebeb" stroke-width="0.55"/>
<line x1="37.5" y1="307.2" x2="300.3" y2="307.2" stroke="#ebebeb" stroke-width="0.55"/>
<line x1="37.5" y1="354.1" x2="300.3" y2="354.1" stroke="#ebebeb" stroke-width="0.55"/>
<line x1="37.5" y1="400.9" x2="300.3" y2="400.9" stroke="#ebebeb" stroke-width="0.55"/>
<line x1="37.5" y1="447.8" x2="300.3" y2="447.8" stroke="#ebebeb" stroke-width="0.55"/>
<line x1="39.2" y1="285.1" x2="39.2" y2="465.4" stroke="#ebebeb" stroke-width="1.07"/>
<line x1="39.2" y1="465.4" x2="39.2" y2="468.1" stroke="#333" stroke-width="1.07"/>
<text class="ax" x="39.4" y="478.5" text-anchor="middle">-5</text>
<line x1="117.9" y1="285.1" x2="117.9" y2="465.4" stroke="#ebebeb" stroke-width="1.07"/>
<line x1="117.9" y1="465.4" x2="117.9" y2="468.1" stroke="#333" stroke-width="1.07"/>
<text class="ax" x="118.1" y="478.5" text-anchor="middle">0</text>
<line x1="196.7" y1="285.1" x2="196.7" y2="465.4" stroke="#ebebeb" stroke-width="1.07"/>
<line x1="196.7" y1="465.4" x2="196.7" y2="468.1" stroke="#333" stroke-width="1.07"/>
<text class="ax" x="196.9" y="478.5" text-anchor="middle">5</text>
<line x1="275.4" y1="285.1" x2="275.4" y2="465.4" stroke="#ebebeb" stroke-width="1.07"/>
<line x1="275.4" y1="465.4" x2="275.4" y2="468.1" stroke="#333" stroke-width="1.07"/>
<text class="ax" x="275.6" y="478.5" text-anchor="middle">10</text>
<line x1="37.5" y1="330.7" x2="300.3" y2="330.7" stroke="#ebebeb" stroke-width="1.07"/>
<line x1="34.8" y1="330.7" x2="37.5" y2="330.7" stroke="#333" stroke-width="1.07"/>
<text class="ax" x="32.2" y="335.2" text-anchor="end">5.0</text>
<line x1="37.5" y1="377.5" x2="300.3" y2="377.5" stroke="#ebebeb" stroke-width="1.07"/>
<line x1="34.8" y1="377.5" x2="37.5" y2="377.5" stroke="#333" stroke-width="1.07"/>
<text class="ax" x="32.2" y="382.0" text-anchor="end">2.5</text>
<line x1="37.5" y1="424.4" x2="300.3" y2="424.4" stroke="#ebebeb" stroke-width="1.07"/>
<line x1="34.8" y1="424.4" x2="37.5" y2="424.4" stroke="#333" stroke-width="1.07"/>
<text class="ax" x="32.2" y="428.9" text-anchor="end">0.0</text>
</g>
<g fill="#bebebe" fill-opacity="0.35" stroke="#bebebe" stroke-opacity="0.35" stroke-width="0.6">
<circle cx="199.9" cy="390.4" r="2.4"/>
<circle cx="133.9" cy="422.3" r="2.4"/>
<circle cx="136.8" cy="420.1" r="2.4"/>
<circle cx="146.3" cy="432.1" r="2.4"/>
<circle cx="159.1" cy="434.5" r="2.4"/>
<circle cx="159.3" cy="434.8" r="2.4"/>
<circle cx="163.8" cy="410.2" r="2.4"/>
<circle cx="165.0" cy="412.8" r="2.4"/>
<circle cx="165.4" cy="413.1" r="2.4"/>
<circle cx="164.7" cy="412.4" r="2.4"/>
<circle cx="169.2" cy="411.7" r="2.4"/>
<circle cx="173.3" cy="414.3" r="2.4"/>
<circle cx="179.9" cy="413.3" r="2.4"/>
<circle cx="180.3" cy="413.6" r="2.4"/>
<circle cx="179.5" cy="413.0" r="2.4"/>
<circle cx="165.3" cy="420.6" r="2.4"/>
<circle cx="170.4" cy="418.7" r="2.4"/>
<circle cx="176.2" cy="420.6" r="2.4"/>
<circle cx="176.6" cy="420.2" r="2.4"/>
<circle cx="178.4" cy="421.6" r="2.4"/>
<circle cx="172.6" cy="416.0" r="2.4"/>
<circle cx="171.5" cy="417.4" r="2.4"/>
<circle cx="222.2" cy="421.6" r="2.4"/>
<circle cx="211.9" cy="439.1" r="2.4"/>
<circle cx="217.1" cy="441.6" r="2.4"/>
<circle cx="217.4" cy="441.2" r="2.4"/>
<circle cx="216.7" cy="442.0" r="2.4"/>
<circle cx="206.6" cy="444.6" r="2.4"/>
<circle cx="216.3" cy="445.3" r="2.4"/>
<circle cx="165.0" cy="412.8" r="2.4"/>
<circle cx="165.2" cy="412.6" r="2.4"/>
<circle cx="164.8" cy="413.1" r="2.4"/>
<circle cx="165.1" cy="413.2" r="2.4"/>
<circle cx="179.9" cy="413.3" r="2.4"/>
<circle cx="180.1" cy="413.5" r="2.4"/>
<circle cx="179.7" cy="413.1" r="2.4"/>
<circle cx="180.0" cy="413.7" r="2.4"/>
<circle cx="176.2" cy="420.6" r="2.4"/>
<circle cx="176.4" cy="420.8" r="2.4"/>
<circle cx="176.0" cy="420.4" r="2.4"/>
<circle cx="165.3" cy="420.6" r="2.4"/>
<circle cx="170.4" cy="418.7" r="2.4"/>
<circle cx="172.6" cy="416.0" r="2.4"/>
<circle cx="172.1" cy="416.8" r="2.4"/>
<circle cx="133.9" cy="422.3" r="2.4"/>
<circle cx="159.9" cy="439.2" r="2.4"/>
<circle cx="112.7" cy="292.8" r="2.4"/>
<circle cx="112.9" cy="293.5" r="2.4"/>
<circle cx="113.1" cy="294.2" r="2.4"/>
<circle cx="113.4" cy="294.8" r="2.4"/>
<circle cx="113.6" cy="295.4" r="2.4"/>
<circle cx="113.8" cy="296.0" r="2.4"/>
<circle cx="114.1" cy="296.6" r="2.4"/>
<circle cx="114.3" cy="297.2" r="2.4"/>
<circle cx="114.6" cy="297.8" r="2.4"/>
<circle cx="114.9" cy="298.4" r="2.4"/>
<circle cx="112.8" cy="293.1" r="2.4"/>
<circle cx="113.3" cy="294.4" r="2.4"/>
<circle cx="113.9" cy="296.2" r="2.4"/>
<circle cx="114.5" cy="297.4" r="2.4"/>
<circle cx="115.1" cy="299.2" r="2.4"/>
<circle cx="115.5" cy="300.0" r="2.4"/>
<circle cx="113.0" cy="293.8" r="2.4"/>
<circle cx="113.5" cy="295.2" r="2.4"/>
<circle cx="116.4" cy="301.8" r="2.4"/>
<circle cx="116.9" cy="302.8" r="2.4"/>
<circle cx="117.3" cy="304.0" r="2.4"/>
<circle cx="117.7" cy="305.2" r="2.4"/>
<circle cx="118.4" cy="307.5" r="2.4"/>
<circle cx="117.5" cy="311.0" r="2.4"/>
<circle cx="118.1" cy="311.8" r="2.4"/>
<circle cx="119.2" cy="313.5" r="2.4"/>
<circle cx="126.5" cy="320.2" r="2.4"/>
<circle cx="125.2" cy="335.0" r="2.4"/>
<circle cx="112.1" cy="293.8" r="2.4"/>
<circle cx="113.9" cy="293.6" r="2.4"/>
<circle cx="112.5" cy="295.6" r="2.4"/>
<circle cx="114.5" cy="295.4" r="2.4"/>
<circle cx="113.1" cy="297.2" r="2.4"/>
<circle cx="115.1" cy="297.0" r="2.4"/>
<circle cx="113.9" cy="298.8" r="2.4"/>
<circle cx="115.7" cy="298.6" r="2.4"/>
<circle cx="113.5" cy="292.4" r="2.4"/>
<circle cx="51.0" cy="450.0" r="2.4"/>
<circle cx="53.2" cy="448.1" r="2.4"/>
<circle cx="53.5" cy="450.6" r="2.4"/>
<circle cx="50.3" cy="453.6" r="2.4"/>
<circle cx="49.9" cy="453.2" r="2.4"/>
<circle cx="54.4" cy="454.3" r="2.4"/>
<circle cx="49.7" cy="451.3" r="2.4"/>
<circle cx="56.4" cy="454.3" r="2.4"/>
<circle cx="53.9" cy="450.6" r="2.4"/>
<circle cx="55.7" cy="448.7" r="2.4"/>
<circle cx="53.4" cy="454.7" r="2.4"/>
<circle cx="51.5" cy="453.6" r="2.4"/>
<circle cx="54.3" cy="450.2" r="2.4"/>
<circle cx="52.4" cy="448.4" r="2.4"/>
<circle cx="54.8" cy="450.4" r="2.4"/>
<circle cx="52.6" cy="453.1" r="2.4"/>
<circle cx="52.6" cy="450.5" r="2.4"/>
<circle cx="56.7" cy="451.9" r="2.4"/>
<circle cx="52.0" cy="453.3" r="2.4"/>
<circle cx="55.3" cy="454.2" r="2.4"/>
<circle cx="54.7" cy="449.2" r="2.4"/>
<circle cx="54.1" cy="453.9" r="2.4"/>
<circle cx="51.0" cy="453.1" r="2.4"/>
<circle cx="50.8" cy="454.8" r="2.4"/>
<circle cx="56.0" cy="451.1" r="2.4"/>
<circle cx="55.9" cy="448.8" r="2.4"/>
<circle cx="55.6" cy="451.5" r="2.4"/>
<circle cx="54.1" cy="451.1" r="2.4"/>
<circle cx="54.1" cy="453.0" r="2.4"/>
<circle cx="51.1" cy="455.0" r="2.4"/>
<circle cx="55.4" cy="448.8" r="2.4"/>
<circle cx="53.5" cy="453.4" r="2.4"/>
<circle cx="49.9" cy="453.4" r="2.4"/>
<circle cx="49.9" cy="451.5" r="2.4"/>
<circle cx="54.3" cy="454.8" r="2.4"/>
<circle cx="50.3" cy="453.1" r="2.4"/>
<circle cx="55.6" cy="454.2" r="2.4"/>
<circle cx="57.6" cy="452.9" r="2.4"/>
<circle cx="51.7" cy="452.0" r="2.4"/>
<circle cx="54.1" cy="455.0" r="2.4"/>
<circle cx="50.2" cy="451.2" r="2.4"/>
<circle cx="51.6" cy="452.7" r="2.4"/>
<circle cx="53.5" cy="449.7" r="2.4"/>
<circle cx="52.9" cy="452.7" r="2.4"/>
<circle cx="57.9" cy="451.1" r="2.4"/>
<circle cx="54.3" cy="452.5" r="2.4"/>
<circle cx="53.4" cy="447.8" r="2.4"/>
<circle cx="57.9" cy="452.0" r="2.4"/>
<circle cx="57.7" cy="452.2" r="2.4"/>
<circle cx="52.5" cy="451.4" r="2.4"/>
<circle cx="51.2" cy="454.3" r="2.4"/>
<circle cx="50.2" cy="450.6" r="2.4"/>
<circle cx="50.7" cy="449.2" r="2.4"/>
<circle cx="50.1" cy="452.4" r="2.4"/>
<circle cx="53.2" cy="448.8" r="2.4"/>
<circle cx="51.2" cy="451.7" r="2.4"/>
<circle cx="51.2" cy="449.6" r="2.4"/>
<circle cx="53.4" cy="451.7" r="2.4"/>
<circle cx="51.6" cy="450.7" r="2.4"/>
<circle cx="54.9" cy="447.9" r="2.4"/>
<circle cx="52.6" cy="449.1" r="2.4"/>
<circle cx="52.2" cy="448.2" r="2.4"/>
<circle cx="55.8" cy="454.9" r="2.4"/>
<circle cx="57.3" cy="451.5" r="2.4"/>
<circle cx="51.3" cy="451.8" r="2.4"/>
<circle cx="52.2" cy="455.0" r="2.4"/>
<circle cx="55.0" cy="453.5" r="2.4"/>
<circle cx="51.3" cy="450.5" r="2.4"/>
<circle cx="57.6" cy="452.4" r="2.4"/>
<circle cx="57.1" cy="452.0" r="2.4"/>
<circle cx="63.0" cy="450.6" r="2.4"/>
<circle cx="59.1" cy="448.8" r="2.4"/>
<circle cx="59.8" cy="450.2" r="2.4"/>
<circle cx="115.9" cy="412.2" r="2.4"/>
<circle cx="98.8" cy="417.7" r="2.4"/>
<circle cx="89.9" cy="422.8" r="2.4"/>
<circle cx="93.1" cy="423.4" r="2.4"/>
<circle cx="94.8" cy="424.2" r="2.4"/>
<circle cx="94.1" cy="425.8" r="2.4"/>
<circle cx="95.5" cy="426.6" r="2.4"/>
<circle cx="93.5" cy="422.6" r="2.4"/>
<circle cx="92.2" cy="429.4" r="2.4"/>
<circle cx="110.2" cy="427.1" r="2.4"/>
<circle cx="124.8" cy="433.3" r="2.4"/>
<circle cx="80.8" cy="428.2" r="2.4"/>
<circle cx="76.5" cy="430.9" r="2.4"/>
<circle cx="76.9" cy="431.6" r="2.4"/>
<circle cx="85.2" cy="433.8" r="2.4"/>
<circle cx="85.8" cy="434.6" r="2.4"/>
<circle cx="84.7" cy="433.2" r="2.4"/>
<circle cx="88.1" cy="439.9" r="2.4"/>
<circle cx="83.8" cy="437.7" r="2.4"/>
<circle cx="83.1" cy="438.6" r="2.4"/>
<circle cx="84.4" cy="436.8" r="2.4"/>
<circle cx="77.9" cy="448.2" r="2.4"/>
<circle cx="76.5" cy="430.6" r="2.4"/>
<circle cx="76.1" cy="431.2" r="2.4"/>
<circle cx="76.8" cy="431.8" r="2.4"/>
<circle cx="85.4" cy="434.1" r="2.4"/>
<circle cx="86.0" cy="433.5" r="2.4"/>
<circle cx="83.5" cy="438.0" r="2.4"/>
<circle cx="84.1" cy="437.2" r="2.4"/>
<circle cx="85.5" cy="435.8" r="2.4"/>
<circle cx="75.1" cy="433.4" r="2.4"/>
<circle cx="75.7" cy="432.6" r="2.4"/>
<circle cx="74.5" cy="434.2" r="2.4"/>
<circle cx="69.0" cy="437.7" r="2.4"/>
<circle cx="68.7" cy="433.8" r="2.4"/>
<circle cx="69.8" cy="438.8" r="2.4"/>
<circle cx="75.0" cy="434.6" r="2.4"/>
<circle cx="74.8" cy="434.0" r="2.4"/>
<circle cx="68.1" cy="435.7" r="2.4"/>
<circle cx="67.9" cy="435.6" r="2.4"/>
<circle cx="73.5" cy="439.0" r="2.4"/>
<circle cx="74.1" cy="435.2" r="2.4"/>
<circle cx="73.5" cy="438.1" r="2.4"/>
<circle cx="68.3" cy="439.2" r="2.4"/>
<circle cx="75.6" cy="437.1" r="2.4"/>
<circle cx="73.4" cy="435.6" r="2.4"/>
<circle cx="69.4" cy="439.8" r="2.4"/>
<circle cx="70.8" cy="439.3" r="2.4"/>
<circle cx="75.0" cy="434.2" r="2.4"/>
<circle cx="71.8" cy="440.1" r="2.4"/>
<circle cx="72.2" cy="433.5" r="2.4"/>
<circle cx="69.3" cy="440.2" r="2.4"/>
<circle cx="70.2" cy="437.5" r="2.4"/>
<circle cx="75.7" cy="436.0" r="2.4"/>
<circle cx="72.8" cy="439.5" r="2.4"/>
<circle cx="71.8" cy="439.4" r="2.4"/>
<circle cx="73.2" cy="433.4" r="2.4"/>
<circle cx="68.6" cy="436.0" r="2.4"/>
<circle cx="69.4" cy="438.1" r="2.4"/>
<circle cx="69.0" cy="436.9" r="2.4"/>
<circle cx="69.9" cy="436.8" r="2.4"/>
<circle cx="73.2" cy="439.1" r="2.4"/>
<circle cx="71.9" cy="439.8" r="2.4"/>
<circle cx="71.4" cy="436.8" r="2.4"/>
<circle cx="70.1" cy="433.1" r="2.4"/>
<circle cx="69.9" cy="434.6" r="2.4"/>
<circle cx="68.4" cy="437.6" r="2.4"/>
<circle cx="70.5" cy="443.0" r="2.4"/>
<circle cx="67.7" cy="443.7" r="2.4"/>
<circle cx="69.7" cy="444.5" r="2.4"/>
<circle cx="66.3" cy="444.3" r="2.4"/>
<circle cx="66.8" cy="442.6" r="2.4"/>
<circle cx="70.8" cy="442.7" r="2.4"/>
<circle cx="69.7" cy="444.4" r="2.4"/>
<circle cx="71.7" cy="442.0" r="2.4"/>
<circle cx="69.7" cy="443.0" r="2.4"/>
<circle cx="69.3" cy="444.1" r="2.4"/>
<circle cx="68.6" cy="443.5" r="2.4"/>
<circle cx="69.4" cy="445.4" r="2.4"/>
<circle cx="70.8" cy="444.6" r="2.4"/>
<circle cx="70.0" cy="445.3" r="2.4"/>
<circle cx="70.7" cy="440.7" r="2.4"/>
<circle cx="66.2" cy="443.7" r="2.4"/>
<circle cx="65.6" cy="442.8" r="2.4"/>
<circle cx="66.2" cy="445.0" r="2.4"/>
<circle cx="71.5" cy="444.6" r="2.4"/>
<circle cx="66.9" cy="445.0" r="2.4"/>
<circle cx="69.5" cy="441.1" r="2.4"/>
<circle cx="68.2" cy="443.4" r="2.4"/>
<circle cx="66.5" cy="443.6" r="2.4"/>
<circle cx="68.8" cy="442.4" r="2.4"/>
<circle cx="73.8" cy="442.0" r="2.4"/>
<circle cx="76.3" cy="441.4" r="2.4"/>
<circle cx="76.9" cy="441.5" r="2.4"/>
<circle cx="73.2" cy="442.0" r="2.4"/>
<circle cx="73.8" cy="440.9" r="2.4"/>
<circle cx="76.7" cy="443.9" r="2.4"/>
<circle cx="77.4" cy="439.7" r="2.4"/>
<circle cx="77.0" cy="442.5" r="2.4"/>
<circle cx="77.0" cy="440.8" r="2.4"/>
<circle cx="77.7" cy="442.7" r="2.4"/>
<circle cx="75.4" cy="441.2" r="2.4"/>
<circle cx="77.5" cy="443.6" r="2.4"/>
<circle cx="73.8" cy="440.9" r="2.4"/>
<circle cx="75.6" cy="440.5" r="2.4"/>
<circle cx="74.5" cy="441.5" r="2.4"/>
<circle cx="77.1" cy="440.0" r="2.4"/>
<circle cx="71.4" cy="438.1" r="2.4"/>
<circle cx="74.6" cy="438.6" r="2.4"/>
<circle cx="69.9" cy="441.3" r="2.4"/>
<circle cx="74.9" cy="437.6" r="2.4"/>
<circle cx="73.6" cy="441.4" r="2.4"/>
<circle cx="71.6" cy="440.3" r="2.4"/>
<circle cx="72.3" cy="442.2" r="2.4"/>
<circle cx="74.7" cy="439.2" r="2.4"/>
<circle cx="71.2" cy="439.5" r="2.4"/>
<circle cx="69.8" cy="443.3" r="2.4"/>
<circle cx="69.3" cy="439.4" r="2.4"/>
<circle cx="76.1" cy="438.5" r="2.4"/>
<circle cx="69.8" cy="439.7" r="2.4"/>
<circle cx="70.7" cy="440.7" r="2.4"/>
<circle cx="69.5" cy="441.4" r="2.4"/>
<circle cx="76.6" cy="437.3" r="2.4"/>
<circle cx="70.4" cy="440.1" r="2.4"/>
<circle cx="72.3" cy="439.9" r="2.4"/>
<circle cx="221.5" cy="446.1" r="2.4"/>
<circle cx="227.8" cy="421.5" r="2.4"/>
<circle cx="230.0" cy="420.0" r="2.4"/>
<circle cx="231.5" cy="422.2" r="2.4"/>
<circle cx="230.9" cy="421.4" r="2.4"/>
<circle cx="232.1" cy="422.8" r="2.4"/>
<circle cx="230.5" cy="420.8" r="2.4"/>
<circle cx="236.0" cy="425.2" r="2.4"/>
<circle cx="237.9" cy="424.9" r="2.4"/>
<circle cx="244.2" cy="429.2" r="2.4"/>
<circle cx="247.4" cy="435.6" r="2.4"/>
<circle cx="258.8" cy="433.1" r="2.4"/>
<circle cx="266.5" cy="437.6" r="2.4"/>
<circle cx="245.7" cy="444.6" r="2.4"/>
<circle cx="246.8" cy="448.3" r="2.4"/>
<circle cx="248.2" cy="451.6" r="2.4"/>
<circle cx="255.8" cy="450.5" r="2.4"/>
<circle cx="258.8" cy="448.7" r="2.4"/>
<circle cx="262.8" cy="446.8" r="2.4"/>
<circle cx="271.0" cy="441.6" r="2.4"/>
<circle cx="276.5" cy="442.3" r="2.4"/>
<circle cx="269.2" cy="443.1" r="2.4"/>
<circle cx="287.8" cy="446.1" r="2.4"/>
<circle cx="288.1" cy="446.5" r="2.4"/>
<circle cx="287.5" cy="445.7" r="2.4"/>
<circle cx="288.5" cy="446.8" r="2.4"/>
<circle cx="264.3" cy="454.2" r="2.4"/>
<circle cx="282.9" cy="453.5" r="2.4"/>
<circle cx="284.1" cy="449.0" r="2.4"/>
<circle cx="279.9" cy="454.2" r="2.4"/>
<circle cx="261.5" cy="449.8" r="2.4"/>
<circle cx="264.5" cy="451.0" r="2.4"/>
<circle cx="269.3" cy="449.9" r="2.4"/>
<circle cx="267.9" cy="449.1" r="2.4"/>
<circle cx="271.0" cy="448.4" r="2.4"/>
<circle cx="274.7" cy="450.7" r="2.4"/>
<circle cx="276.9" cy="451.8" r="2.4"/>
<circle cx="276.2" cy="453.2" r="2.4"/>
<circle cx="272.1" cy="449.1" r="2.4"/>
<circle cx="276.5" cy="451.7" r="2.4"/>
<circle cx="278.9" cy="451.9" r="2.4"/>
<circle cx="276.5" cy="452.8" r="2.4"/>
<circle cx="268.5" cy="449.9" r="2.4"/>
<circle cx="273.3" cy="452.5" r="2.4"/>
<circle cx="277.5" cy="453.0" r="2.4"/>
<circle cx="274.4" cy="453.0" r="2.4"/>
<circle cx="275.9" cy="451.9" r="2.4"/>
<circle cx="268.5" cy="448.9" r="2.4"/>
<circle cx="274.2" cy="451.3" r="2.4"/>
<circle cx="275.1" cy="451.8" r="2.4"/>
<circle cx="273.7" cy="447.2" r="2.4"/>
<circle cx="277.4" cy="452.5" r="2.4"/>
<circle cx="273.5" cy="450.6" r="2.4"/>
<circle cx="276.0" cy="447.9" r="2.4"/>
<circle cx="277.0" cy="449.2" r="2.4"/>
<circle cx="267.8" cy="448.2" r="2.4"/>
<circle cx="276.9" cy="448.9" r="2.4"/>
<circle cx="273.5" cy="449.6" r="2.4"/>
<circle cx="273.1" cy="451.5" r="2.4"/>
<circle cx="277.1" cy="451.6" r="2.4"/>
<circle cx="275.8" cy="448.0" r="2.4"/>
<circle cx="268.8" cy="448.2" r="2.4"/>
<circle cx="277.0" cy="449.6" r="2.4"/>
<circle cx="274.8" cy="447.4" r="2.4"/>
<circle cx="267.6" cy="448.2" r="2.4"/>
<circle cx="275.7" cy="451.9" r="2.4"/>
<circle cx="276.1" cy="449.4" r="2.4"/>
<circle cx="273.8" cy="450.2" r="2.4"/>
<circle cx="273.3" cy="447.9" r="2.4"/>
<circle cx="279.2" cy="449.1" r="2.4"/>
<circle cx="266.8" cy="449.3" r="2.4"/>
<circle cx="273.0" cy="448.8" r="2.4"/>
<circle cx="269.4" cy="450.4" r="2.4"/>
<circle cx="268.5" cy="450.0" r="2.4"/>
<circle cx="277.9" cy="451.0" r="2.4"/>
<circle cx="278.7" cy="452.3" r="2.4"/>
<circle cx="269.5" cy="452.5" r="2.4"/>
<circle cx="273.7" cy="447.4" r="2.4"/>
<circle cx="266.6" cy="449.5" r="2.4"/>
<circle cx="273.0" cy="449.1" r="2.4"/>
<circle cx="268.6" cy="448.8" r="2.4"/>
<circle cx="270.7" cy="452.3" r="2.4"/>
<circle cx="279.3" cy="452.5" r="2.4"/>
<circle cx="279.2" cy="449.7" r="2.4"/>
<circle cx="271.8" cy="449.5" r="2.4"/>
<circle cx="271.6" cy="449.7" r="2.4"/>
<circle cx="270.2" cy="452.8" r="2.4"/>
<circle cx="263.0" cy="447.5" r="2.4"/>
<circle cx="263.4" cy="447.9" r="2.4"/>
<circle cx="262.7" cy="447.2" r="2.4"/>
<circle cx="287.8" cy="446.1" r="2.4"/>
<circle cx="288.0" cy="446.3" r="2.4"/>
<circle cx="287.6" cy="445.9" r="2.4"/>
<circle cx="287.9" cy="445.8" r="2.4"/>
<circle cx="231.3" cy="422.0" r="2.4"/>
<circle cx="231.7" cy="422.4" r="2.4"/>
<circle cx="230.7" cy="421.2" r="2.4"/>
<circle cx="230.3" cy="420.4" r="2.4"/>
<circle cx="276.0" cy="450.2" r="2.4"/>
<circle cx="278.4" cy="450.2" r="2.4"/>
<circle cx="276.4" cy="453.9" r="2.4"/>
<circle cx="281.1" cy="454.1" r="2.4"/>
<circle cx="278.7" cy="454.1" r="2.4"/>
<circle cx="281.8" cy="452.8" r="2.4"/>
<circle cx="280.1" cy="452.0" r="2.4"/>
<circle cx="280.1" cy="453.0" r="2.4"/>
<circle cx="276.6" cy="449.1" r="2.4"/>
<circle cx="277.9" cy="451.0" r="2.4"/>
<circle cx="276.0" cy="452.7" r="2.4"/>
<circle cx="279.6" cy="451.1" r="2.4"/>
</g>
<circle cx="67.6" cy="437.3" r="2.5" fill="#000" fill-opacity="0.33"/>
<rect x="72.35" y="430.55" width="118.9" height="13.5" rx="2.2" ry="2.2" fill="#fff" stroke="#333" stroke-width="0.9"/>
<text x="75.8" y="441.4" style="font-size:10.7px" fill="#000" stroke="#000" stroke-width="0.2">TcYC6_0128800-RA-p1</text>
<rect x="37.81" y="285.41" width="262.18" height="179.63" fill="none" stroke="#333" stroke-width="0.62"/>
<text class="tt" x="168.9" y="493.8" text-anchor="middle">75.33</text><text class="tt" transform="translate(11.1,375.2) rotate(-90)" text-anchor="middle">14.27</text>
<text class="tag" x="37.7" y="257.7">C</text>
<g>
<line x1="389.1" y1="285.1" x2="389.1" y2="465.4" stroke="#ebebeb" stroke-width="0.55"/>
<line x1="467.8" y1="285.1" x2="467.8" y2="465.4" stroke="#ebebeb" stroke-width="0.55"/>
<line x1="546.6" y1="285.1" x2="546.6" y2="465.4" stroke="#ebebeb" stroke-width="0.55"/>
<line x1="348.3" y1="307.2" x2="611.1" y2="307.2" stroke="#ebebeb" stroke-width="0.55"/>
<line x1="348.3" y1="354.1" x2="611.1" y2="354.1" stroke="#ebebeb" stroke-width="0.55"/>
<line x1="348.3" y1="400.9" x2="611.1" y2="400.9" stroke="#ebebeb" stroke-width="0.55"/>
<line x1="348.3" y1="447.8" x2="611.1" y2="447.8" stroke="#ebebeb" stroke-width="0.55"/>
<line x1="349.7" y1="285.1" x2="349.7" y2="465.4" stroke="#ebebeb" stroke-width="1.07"/>
<line x1="349.7" y1="465.4" x2="349.7" y2="468.1" stroke="#333" stroke-width="1.07"/>
<text class="ax" x="349.9" y="478.5" text-anchor="middle">-5</text>
<line x1="428.4" y1="285.1" x2="428.4" y2="465.4" stroke="#ebebeb" stroke-width="1.07"/>
<line x1="428.4" y1="465.4" x2="428.4" y2="468.1" stroke="#333" stroke-width="1.07"/>
<text class="ax" x="428.6" y="478.5" text-anchor="middle">0</text>
<line x1="507.2" y1="285.1" x2="507.2" y2="465.4" stroke="#ebebeb" stroke-width="1.07"/>
<line x1="507.2" y1="465.4" x2="507.2" y2="468.1" stroke="#333" stroke-width="1.07"/>
<text class="ax" x="507.4" y="478.5" text-anchor="middle">5</text>
<line x1="586.0" y1="285.1" x2="586.0" y2="465.4" stroke="#ebebeb" stroke-width="1.07"/>
<line x1="586.0" y1="465.4" x2="586.0" y2="468.1" stroke="#333" stroke-width="1.07"/>
<text class="ax" x="586.2" y="478.5" text-anchor="middle">10</text>
<line x1="348.3" y1="330.7" x2="611.1" y2="330.7" stroke="#ebebeb" stroke-width="1.07"/>
<line x1="345.6" y1="330.7" x2="348.3" y2="330.7" stroke="#333" stroke-width="1.07"/>
<text class="ax" x="343.0" y="335.2" text-anchor="end">5.0</text>
<line x1="348.3" y1="377.5" x2="611.1" y2="377.5" stroke="#ebebeb" stroke-width="1.07"/>
<line x1="345.6" y1="377.5" x2="348.3" y2="377.5" stroke="#333" stroke-width="1.07"/>
<text class="ax" x="343.0" y="382.0" text-anchor="end">2.5</text>
<line x1="348.3" y1="424.4" x2="611.1" y2="424.4" stroke="#ebebeb" stroke-width="1.07"/>
<line x1="345.6" y1="424.4" x2="348.3" y2="424.4" stroke="#333" stroke-width="1.07"/>
<text class="ax" x="343.0" y="428.9" text-anchor="end">0.0</text>
</g>
<g fill="#F8766D" fill-opacity="0.3" stroke="#F8766D" stroke-opacity="0.3" stroke-width="0.6">
<circle cx="475.5" cy="413.0" r="2.5"/>
<circle cx="477.7" cy="413.2" r="2.7"/>
<circle cx="476.5" cy="420.3" r="1.7"/>
<circle cx="469.6" cy="434.1" r="4.0"/>
<circle cx="522.2" cy="438.8" r="3.5"/>
<circle cx="527.2" cy="445.1" r="5.5"/>
<circle cx="527.6" cy="441.7" r="2.2"/>
</g>
<g fill="#A3A500" fill-opacity="0.3" stroke="#A3A500" stroke-opacity="0.3" stroke-width="0.6">
<circle cx="423.8" cy="293.9" r="5.0"/>
<circle cx="423.5" cy="293.7" r="4.6"/>
<circle cx="424.1" cy="294.1" r="4.1"/>
</g>
<g fill="#00BF7D" fill-opacity="0.3" stroke="#00BF7D" stroke-opacity="0.3" stroke-width="0.6">
<circle cx="374.8" cy="450.8" r="3.0"/>
<circle cx="364.4" cy="453.3" r="4.1"/>
<circle cx="367.5" cy="450.6" r="4.7"/>
<circle cx="365.0" cy="453.3" r="4.0"/>
<circle cx="362.2" cy="454.0" r="4.2"/>
<circle cx="366.8" cy="454.5" r="4.5"/>
<circle cx="360.6" cy="452.7" r="4.8"/>
<circle cx="363.9" cy="448.0" r="4.6"/>
<circle cx="366.2" cy="452.9" r="4.2"/>
<circle cx="362.7" cy="448.8" r="4.9"/>
<circle cx="361.0" cy="451.7" r="4.2"/>
<circle cx="360.8" cy="454.2" r="4.0"/>
<circle cx="365.6" cy="455.7" r="4.2"/>
<circle cx="365.3" cy="453.7" r="4.4"/>
<circle cx="365.2" cy="453.9" r="4.0"/>
<circle cx="363.2" cy="450.9" r="4.1"/>
<circle cx="368.0" cy="452.9" r="4.3"/>
<circle cx="361.9" cy="451.1" r="4.5"/>
<circle cx="361.0" cy="449.9" r="4.1"/>
<circle cx="366.1" cy="450.7" r="4.3"/>
<circle cx="366.6" cy="450.2" r="4.8"/>
<circle cx="367.5" cy="450.7" r="4.9"/>
<circle cx="367.7" cy="449.8" r="4.6"/>
<circle cx="361.9" cy="455.4" r="4.6"/>
<circle cx="365.6" cy="449.6" r="4.5"/>
<circle cx="360.6" cy="452.9" r="4.1"/>
<circle cx="360.5" cy="452.1" r="4.0"/>
<circle cx="365.3" cy="448.7" r="4.0"/>
<circle cx="364.7" cy="451.9" r="4.9"/>
<circle cx="363.2" cy="455.8" r="4.7"/>
<circle cx="362.4" cy="455.3" r="4.9"/>
<circle cx="361.2" cy="453.5" r="4.0"/>
<circle cx="361.3" cy="451.9" r="4.6"/>
<circle cx="364.8" cy="456.6" r="4.4"/>
<circle cx="361.8" cy="452.9" r="4.7"/>
<circle cx="367.8" cy="452.3" r="4.3"/>
<circle cx="361.2" cy="451.8" r="4.9"/>
<circle cx="365.8" cy="450.1" r="4.0"/>
<circle cx="361.0" cy="449.9" r="4.5"/>
<circle cx="361.8" cy="455.0" r="4.7"/>
<circle cx="363.0" cy="454.5" r="4.9"/>
<circle cx="363.3" cy="452.7" r="4.7"/>
<circle cx="367.9" cy="450.6" r="4.7"/>
<circle cx="366.7" cy="455.3" r="4.7"/>
<circle cx="360.5" cy="451.1" r="4.9"/>
<circle cx="361.2" cy="451.1" r="4.3"/>
<circle cx="367.9" cy="451.9" r="4.6"/>
<circle cx="362.1" cy="449.7" r="4.9"/>
<circle cx="363.4" cy="455.4" r="4.8"/>
<circle cx="364.1" cy="456.3" r="4.4"/>
<circle cx="364.3" cy="450.5" r="4.7"/>
</g>
<g fill="#00B0F6" fill-opacity="0.3" stroke="#00B0F6" stroke-opacity="0.3" stroke-width="0.6">
<circle cx="409.1" cy="417.9" r="3.0"/>
<circle cx="404.9" cy="426.1" r="4.2"/>
<circle cx="405.8" cy="426.8" r="3.2"/>
<circle cx="403.0" cy="424.4" r="3.2"/>
<circle cx="404.6" cy="425.6" r="3.7"/>
<circle cx="405.4" cy="426.6" r="3.0"/>
<circle cx="420.8" cy="427.1" r="3.5"/>
<circle cx="435.1" cy="433.7" r="3.0"/>
<circle cx="391.6" cy="428.9" r="3.0"/>
<circle cx="392.0" cy="433.6" r="2.7"/>
<circle cx="396.4" cy="433.7" r="3.2"/>
<circle cx="396.0" cy="434.2" r="2.7"/>
<circle cx="394.4" cy="437.0" r="3.5"/>
<circle cx="394.0" cy="437.6" r="3.0"/>
<circle cx="395.8" cy="434.6" r="2.7"/>
<circle cx="399.4" cy="440.0" r="4.5"/>
<circle cx="393.5" cy="438.8" r="3.2"/>
<circle cx="394.0" cy="438.2" r="2.7"/>
<circle cx="388.4" cy="448.6" r="1.9"/>
<circle cx="383.6" cy="441.6" r="4.8"/>
<circle cx="382.1" cy="439.3" r="4.3"/>
<circle cx="381.1" cy="441.2" r="4.0"/>
<circle cx="376.7" cy="440.1" r="4.4"/>
<circle cx="383.0" cy="439.6" r="4.5"/>
<circle cx="382.5" cy="441.4" r="4.7"/>
<circle cx="379.2" cy="442.9" r="4.4"/>
<circle cx="376.4" cy="441.1" r="4.0"/>
<circle cx="376.4" cy="439.7" r="4.8"/>
<circle cx="381.3" cy="437.5" r="4.0"/>
<circle cx="382.4" cy="440.5" r="4.7"/>
<circle cx="380.5" cy="444.1" r="4.1"/>
<circle cx="378.5" cy="441.1" r="4.3"/>
<circle cx="379.1" cy="436.2" r="4.7"/>
<circle cx="383.7" cy="442.5" r="4.1"/>
<circle cx="379.1" cy="443.4" r="4.1"/>
<circle cx="378.8" cy="441.0" r="4.5"/>
<circle cx="378.3" cy="438.6" r="4.7"/>
<circle cx="384.3" cy="440.0" r="4.8"/>
<circle cx="381.9" cy="438.6" r="4.6"/>
<circle cx="377.6" cy="439.0" r="4.9"/>
<circle cx="382.6" cy="444.0" r="4.4"/>
<circle cx="381.3" cy="444.6" r="4.9"/>
<circle cx="379.7" cy="436.4" r="4.0"/>
<circle cx="380.9" cy="437.8" r="4.2"/>
<circle cx="378.5" cy="438.5" r="4.5"/>
<circle cx="381.8" cy="440.3" r="4.2"/>
<circle cx="378.2" cy="442.6" r="4.7"/>
<circle cx="385.0" cy="440.9" r="4.6"/>
<circle cx="382.3" cy="441.2" r="4.5"/>
<circle cx="378.2" cy="442.1" r="4.8"/>
<circle cx="381.6" cy="435.6" r="4.5"/>
<circle cx="384.3" cy="438.5" r="4.3"/>
<circle cx="382.0" cy="439.9" r="4.3"/>
<circle cx="381.4" cy="441.7" r="4.8"/>
<circle cx="383.1" cy="437.8" r="4.9"/>
<circle cx="381.4" cy="437.0" r="4.2"/>
<circle cx="376.6" cy="438.4" r="4.8"/>
<circle cx="383.4" cy="437.7" r="4.9"/>
<circle cx="379.2" cy="438.0" r="4.5"/>
<circle cx="382.3" cy="440.7" r="4.5"/>
<circle cx="381.0" cy="442.6" r="4.2"/>
<circle cx="379.0" cy="442.3" r="4.5"/>
<circle cx="383.8" cy="443.1" r="4.5"/>
<circle cx="377.6" cy="438.6" r="4.6"/>
<circle cx="380.6" cy="444.0" r="4.0"/>
<circle cx="379.4" cy="440.3" r="4.9"/>
<circle cx="383.1" cy="443.7" r="4.5"/>
<circle cx="384.6" cy="440.9" r="4.4"/>
<circle cx="382.8" cy="437.8" r="4.8"/>
<circle cx="381.7" cy="443.4" r="4.5"/>
<circle cx="381.3" cy="442.3" r="4.4"/>
<circle cx="377.1" cy="442.8" r="4.6"/>
<circle cx="380.2" cy="442.7" r="4.0"/>
<circle cx="378.0" cy="443.2" r="4.5"/>
<circle cx="384.1" cy="438.9" r="3.9"/>
<circle cx="387.1" cy="434.8" r="3.8"/>
<circle cx="384.4" cy="434.0" r="3.9"/>
<circle cx="384.2" cy="438.1" r="4.0"/>
<circle cx="387.0" cy="436.1" r="3.6"/>
<circle cx="383.5" cy="434.3" r="3.7"/>
<circle cx="385.3" cy="438.8" r="4.1"/>
<circle cx="382.4" cy="437.9" r="4.1"/>
<circle cx="383.0" cy="437.3" r="4.0"/>
<circle cx="383.5" cy="435.3" r="4.3"/>
<circle cx="385.3" cy="433.8" r="4.1"/>
<circle cx="386.0" cy="433.9" r="4.3"/>
<circle cx="384.7" cy="434.7" r="3.7"/>
<circle cx="382.8" cy="436.4" r="4.2"/>
</g>
<g fill="#E76BF3" fill-opacity="0.3" stroke="#E76BF3" stroke-opacity="0.3" stroke-width="0.6">
<circle cx="540.5" cy="420.0" r="3.2"/>
<circle cx="543.0" cy="422.1" r="2.7"/>
<circle cx="546.0" cy="425.2" r="4.0"/>
<circle cx="566.6" cy="450.4" r="4.0"/>
<circle cx="579.2" cy="442.9" r="3.1"/>
<circle cx="587.1" cy="442.3" r="4.2"/>
<circle cx="585.9" cy="446.4" r="3.8"/>
<circle cx="574.0" cy="448.6" r="3.2"/>
<circle cx="584.4" cy="450.8" r="3.7"/>
<circle cx="591.1" cy="454.3" r="3.8"/>
<circle cx="598.3" cy="445.6" r="3.2"/>
<circle cx="598.6" cy="445.9" r="2.7"/>
<circle cx="599.3" cy="447.1" r="4.0"/>
<circle cx="594.9" cy="449.3" r="2.2"/>
<circle cx="575.5" cy="450.8" r="3.7"/>
<circle cx="588.9" cy="451.6" r="3.2"/>
<circle cx="579.3" cy="449.0" r="3.7"/>
<circle cx="578.1" cy="448.6" r="3.1"/>
<circle cx="582.1" cy="449.1" r="3.3"/>
<circle cx="579.9" cy="450.8" r="3.3"/>
<circle cx="578.0" cy="449.2" r="3.2"/>
<circle cx="578.4" cy="450.3" r="3.5"/>
<circle cx="577.9" cy="449.6" r="2.7"/>
<circle cx="582.2" cy="450.0" r="3.6"/>
<circle cx="581.9" cy="448.8" r="3.8"/>
<circle cx="577.4" cy="449.7" r="2.9"/>
<circle cx="580.6" cy="450.1" r="3.3"/>
<circle cx="578.2" cy="448.4" r="3.6"/>
<circle cx="578.4" cy="450.8" r="3.2"/>
<circle cx="583.6" cy="450.0" r="2.9"/>
</g>
<rect x="348.61" y="285.41" width="262.18" height="179.63" fill="none" stroke="#333" stroke-width="0.62"/>
<text class="tt" x="479.7" y="493.8" text-anchor="middle">75.33</text><text class="tt" transform="translate(321.9,375.2) rotate(-90)" text-anchor="middle">14.27</text>
<text class="tag" x="348.0" y="257.3">D</text>
<text x="348.1" y="276.8" style="font-size:14.5px" fill="#000" stroke="#000" stroke-width="0.25">Log2FoldChange Trypomastigotes vs Epimastigotes</text>
<text class="tt" x="259.5" y="526.4" style="font-size:14.4px">cluster</text>
<circle cx="316.0" cy="521.4" r="2.0" fill="#F8766D" fill-opacity="0.3" stroke="#F8766D" stroke-opacity="0.3" stroke-width="0.6"/>
<text class="lg" x="330.2" y="525.7">1</text>
<circle cx="349.6" cy="521.4" r="2.0" fill="#A3A500" fill-opacity="0.3" stroke="#A3A500" stroke-opacity="0.3" stroke-width="0.6"/>
<text class="lg" x="363.9" y="525.7">2</text>
<circle cx="383.2" cy="521.4" r="2.0" fill="#00BF7D" fill-opacity="0.3" stroke="#00BF7D" stroke-opacity="0.3" stroke-width="0.6"/>
<text class="lg" x="397.4" y="525.7">3</text>
<circle cx="416.8" cy="521.4" r="2.0" fill="#00B0F6" fill-opacity="0.3" stroke="#00B0F6" stroke-opacity="0.3" stroke-width="0.6"/>
<text class="lg" x="431.1" y="525.7">4</text>
<circle cx="450.4" cy="521.4" r="2.0" fill="#E76BF3" fill-opacity="0.3" stroke="#E76BF3" stroke-opacity="0.3" stroke-width="0.6"/>
<text class="lg" x="464.6" y="525.7">5</text>
<text class="tt" x="492.2" y="526.4" style="font-size:14.4px">log2FoldChange</text>
<circle cx="612.1" cy="521.5" r="3.9" fill="#000" fill-opacity="0.3" stroke="#000" stroke-opacity="0.3" stroke-width="0.6"/>
<text class="lg" x="626.2" y="525.7">4</text>
<circle cx="645.5" cy="521.5" r="5.2" fill="#000" fill-opacity="0.3" stroke="#000" stroke-opacity="0.3" stroke-width="0.6"/>
<text class="lg" x="659.3" y="525.7">6</text>
<circle cx="679.5" cy="521.5" r="6.5" fill="#000" fill-opacity="0.3" stroke="#000" stroke-opacity="0.3" stroke-width="0.6"/>
</svg></body></html>
